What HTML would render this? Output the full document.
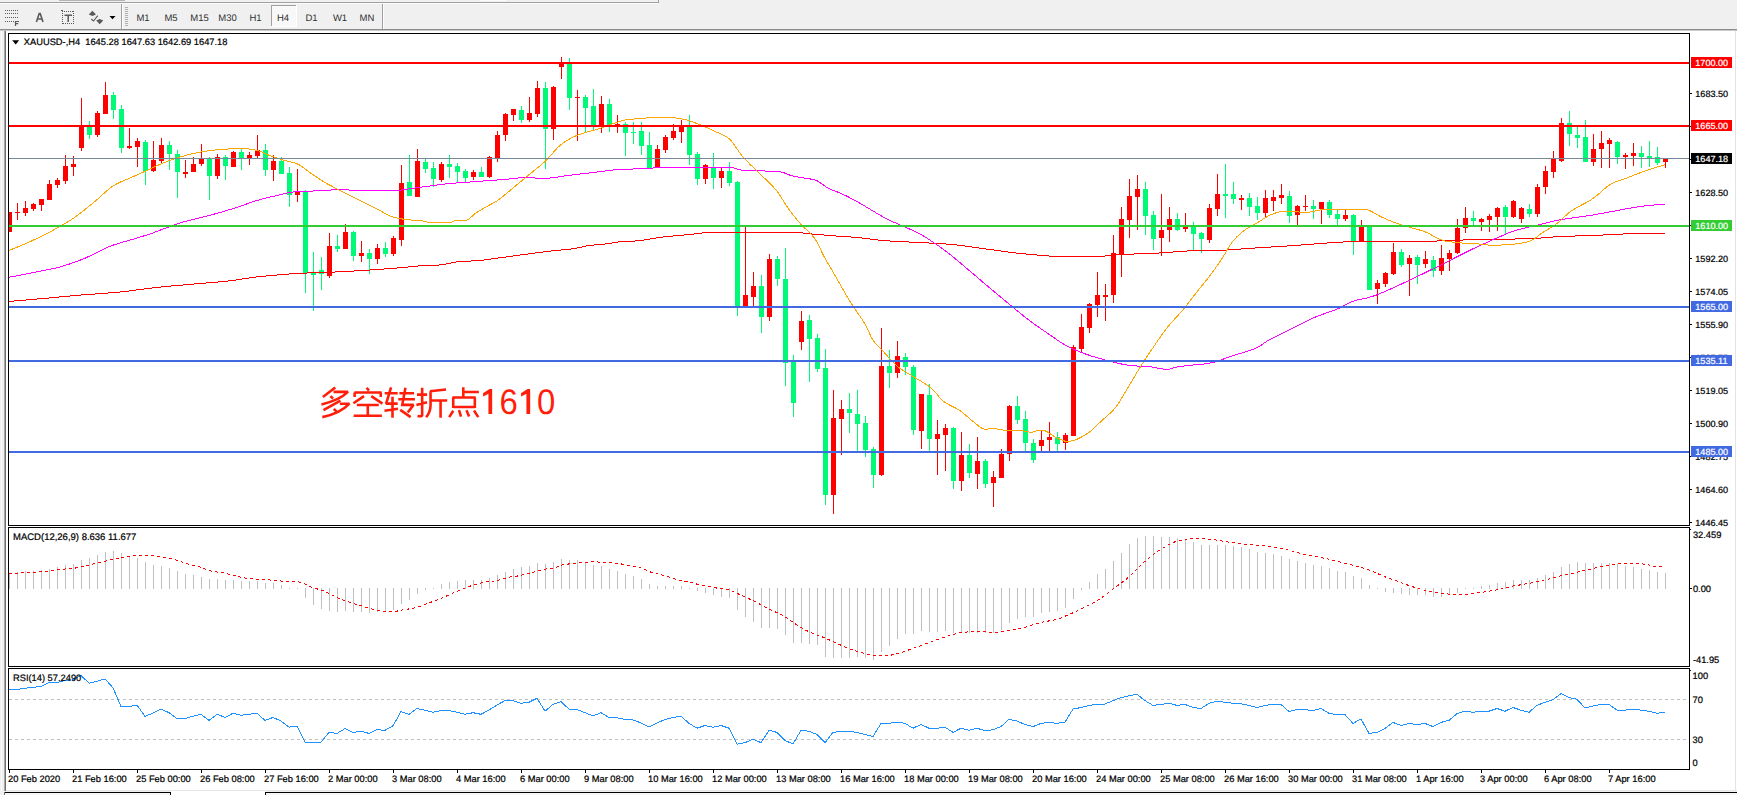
<!DOCTYPE html>
<html><head><meta charset="utf-8"><title>XAUUSD H4</title>
<style>
html,body{margin:0;padding:0;background:#fff;overflow:hidden}
body{width:1737px;height:795px;font-family:"Liberation Sans",sans-serif}
svg{display:block;font-family:"Liberation Sans",sans-serif}
</style></head><body>
<svg width="1737" height="795" viewBox="0 0 1737 795" shape-rendering="crispEdges" text-rendering="geometricPrecision">
<defs><clipPath id="cm"><rect x="9" y="34" width="1680" height="491"/></clipPath></defs>
<rect x="0" y="0" width="1737" height="795" fill="#fff"/>
<rect x="0" y="0" width="1737" height="3" fill="#f0f0f0"/>
<rect x="0" y="2" width="658" height="1" fill="#a0a0a0"/>
<rect x="658" y="0" width="1" height="3" fill="#a0a0a0"/>
<rect x="59" y="0" width="66" height="1" fill="#b4b4b4"/>
<rect x="480" y="0" width="26" height="1" fill="#fafafa"/>
<rect x="0" y="3" width="1737" height="26" fill="#f0f0f0"/>
<rect x="0" y="3" width="658" height="1" fill="#fbfbfb"/>
<rect x="0" y="29" width="1737" height="1" fill="#8c8c8c"/>
<rect x="0" y="30" width="1737" height="1" fill="#c8c8c8"/>
<rect x="0" y="31" width="4" height="760" fill="#f0f0f0"/>
<rect x="1" y="31" width="1" height="760" fill="#fafafa"/>
<rect x="4" y="31" width="1" height="760" fill="#a8a8a8"/>
<rect x="5" y="31" width="1" height="760" fill="#6e6e6e"/>
<rect x="1735" y="31" width="1" height="760" fill="#e3e3e3"/>
<rect x="6" y="790" width="1731" height="1" fill="#e6e6e6"/>
<rect x="0" y="791" width="1737" height="4" fill="#f0f0f0"/>
<rect x="4" y="792" width="167" height="1" fill="#000"/>
<rect x="170" y="792" width="1" height="3" fill="#000"/>
<rect x="4" y="792" width="1" height="3" fill="#6e6e6e"/>
<rect x="171" y="791" width="94" height="4" fill="#fff"/>
<rect x="265" y="792" width="1472" height="1" fill="#000"/>
<rect x="265" y="792" width="1" height="3" fill="#000"/>
<rect x="5" y="793" width="165" height="2" fill="#f6f6f6"/>
<rect x="266" y="793" width="1471" height="2" fill="#f6f6f6"/>
<rect x="121" y="4" width="1" height="25" fill="#a0a0a0"/>
<rect x="122" y="4" width="1" height="25" fill="#fdfdfd"/>
<rect x="382" y="4" width="1" height="25" fill="#a0a0a0"/>
<rect x="383" y="4" width="1" height="25" fill="#fdfdfd"/>
<rect x="125" y="7" width="3" height="1" fill="#b0b0b0"/>
<rect x="125" y="9" width="3" height="1" fill="#b0b0b0"/>
<rect x="125" y="11" width="3" height="1" fill="#b0b0b0"/>
<rect x="125" y="13" width="3" height="1" fill="#b0b0b0"/>
<rect x="125" y="15" width="3" height="1" fill="#b0b0b0"/>
<rect x="125" y="17" width="3" height="1" fill="#b0b0b0"/>
<rect x="125" y="19" width="3" height="1" fill="#b0b0b0"/>
<rect x="125" y="21" width="3" height="1" fill="#b0b0b0"/>
<rect x="125" y="23" width="3" height="1" fill="#b0b0b0"/>
<rect x="125" y="25" width="3" height="1" fill="#b0b0b0"/>
<rect x="271" y="5" width="26" height="22" fill="#f8f8f8"/>
<rect x="271" y="5" width="26" height="1" fill="#a0a0a0"/>
<rect x="271" y="5" width="1" height="22" fill="#a0a0a0"/>
<rect x="296" y="5" width="1" height="22" fill="#fff"/>
<rect x="271" y="26" width="26" height="1" fill="#fff"/>
<text x="143" y="21" font-size="9.5" fill="#303030" text-anchor="middle">M1</text>
<text x="171" y="21" font-size="9.5" fill="#303030" text-anchor="middle">M5</text>
<text x="199.5" y="21" font-size="9.5" fill="#303030" text-anchor="middle">M15</text>
<text x="227.5" y="21" font-size="9.5" fill="#303030" text-anchor="middle">M30</text>
<text x="255.5" y="21" font-size="9.5" fill="#303030" text-anchor="middle">H1</text>
<text x="283" y="21" font-size="9.5" fill="#303030" text-anchor="middle">H4</text>
<text x="311.5" y="21" font-size="9.5" fill="#303030" text-anchor="middle">D1</text>
<text x="340" y="21" font-size="9.5" fill="#303030" text-anchor="middle">W1</text>
<text x="367" y="21" font-size="9.5" fill="#303030" text-anchor="middle">MN</text>
<rect x="5" y="10" width="1" height="1" fill="#5a5a5a"/>
<rect x="7" y="10" width="1" height="1" fill="#5a5a5a"/>
<rect x="9" y="10" width="1" height="1" fill="#5a5a5a"/>
<rect x="11" y="10" width="1" height="1" fill="#5a5a5a"/>
<rect x="13" y="10" width="1" height="1" fill="#5a5a5a"/>
<rect x="15" y="10" width="1" height="1" fill="#5a5a5a"/>
<rect x="17" y="10" width="1" height="1" fill="#5a5a5a"/>
<rect x="5" y="13" width="1" height="1" fill="#5a5a5a"/>
<rect x="7" y="13" width="1" height="1" fill="#5a5a5a"/>
<rect x="9" y="13" width="1" height="1" fill="#5a5a5a"/>
<rect x="11" y="13" width="1" height="1" fill="#5a5a5a"/>
<rect x="13" y="13" width="1" height="1" fill="#5a5a5a"/>
<rect x="15" y="13" width="1" height="1" fill="#5a5a5a"/>
<rect x="17" y="13" width="1" height="1" fill="#5a5a5a"/>
<rect x="5" y="17" width="1" height="1" fill="#5a5a5a"/>
<rect x="7" y="17" width="1" height="1" fill="#5a5a5a"/>
<rect x="9" y="17" width="1" height="1" fill="#5a5a5a"/>
<rect x="11" y="17" width="1" height="1" fill="#5a5a5a"/>
<rect x="13" y="17" width="1" height="1" fill="#5a5a5a"/>
<rect x="15" y="17" width="1" height="1" fill="#5a5a5a"/>
<rect x="17" y="17" width="1" height="1" fill="#5a5a5a"/>
<rect x="5" y="21" width="1" height="1" fill="#5a5a5a"/>
<rect x="7" y="21" width="1" height="1" fill="#5a5a5a"/>
<rect x="9" y="21" width="1" height="1" fill="#5a5a5a"/>
<rect x="11" y="21" width="1" height="1" fill="#5a5a5a"/>
<rect x="13" y="21" width="1" height="1" fill="#5a5a5a"/>
<path d="M15.5 26V21.5H19M15.5 23.7H18.3" stroke="#5a5a5a" stroke-width="1.2" fill="none" shape-rendering="geometricPrecision"/>
<path d="M36.4 21.9L39.2 13.6H40.2L43 21.9M37.5 19H41.9" stroke="#5a5a5a" stroke-width="1.6" fill="none" stroke-linejoin="miter" shape-rendering="geometricPrecision"/>
<rect x="62" y="11" width="1" height="1" fill="#5a5a5a"/>
<rect x="63" y="23" width="1" height="1" fill="#5a5a5a"/>
<rect x="64" y="11" width="1" height="1" fill="#5a5a5a"/>
<rect x="65" y="23" width="1" height="1" fill="#5a5a5a"/>
<rect x="66" y="11" width="1" height="1" fill="#5a5a5a"/>
<rect x="67" y="23" width="1" height="1" fill="#5a5a5a"/>
<rect x="68" y="11" width="1" height="1" fill="#5a5a5a"/>
<rect x="69" y="23" width="1" height="1" fill="#5a5a5a"/>
<rect x="70" y="11" width="1" height="1" fill="#5a5a5a"/>
<rect x="71" y="23" width="1" height="1" fill="#5a5a5a"/>
<rect x="72" y="11" width="1" height="1" fill="#5a5a5a"/>
<rect x="73" y="23" width="1" height="1" fill="#5a5a5a"/>
<rect x="62" y="11" width="1" height="1" fill="#5a5a5a"/>
<rect x="73" y="11" width="1" height="1" fill="#5a5a5a"/>
<rect x="62" y="13" width="1" height="1" fill="#5a5a5a"/>
<rect x="73" y="13" width="1" height="1" fill="#5a5a5a"/>
<rect x="62" y="15" width="1" height="1" fill="#5a5a5a"/>
<rect x="73" y="15" width="1" height="1" fill="#5a5a5a"/>
<rect x="62" y="17" width="1" height="1" fill="#5a5a5a"/>
<rect x="73" y="17" width="1" height="1" fill="#5a5a5a"/>
<rect x="62" y="19" width="1" height="1" fill="#5a5a5a"/>
<rect x="73" y="19" width="1" height="1" fill="#5a5a5a"/>
<rect x="62" y="21" width="1" height="1" fill="#5a5a5a"/>
<rect x="73" y="21" width="1" height="1" fill="#5a5a5a"/>
<rect x="62" y="23" width="1" height="1" fill="#5a5a5a"/>
<rect x="73" y="23" width="1" height="1" fill="#5a5a5a"/>
<rect x="61" y="10" width="2" height="1" fill="#5a5a5a"/>
<path d="M64.5 15.2H72M68.2 15.2V22" stroke="#5a5a5a" stroke-width="1.5" fill="none" shape-rendering="geometricPrecision"/>
<g shape-rendering="geometricPrecision" fill="#5a5a5a"><path d="M92.4 10.8L96 14.4L92.4 16L88.8 14.4Z"/><path d="M99.7 24.2L103.2 20.6L99.7 19L96.2 20.6Z"/><path d="M91.3 19L93.5 21L97.8 15.6" stroke="#5a5a5a" stroke-width="1.1" fill="none"/></g>
<path d="M109.5 16H115.5L112.5 19.2Z" fill="#000" shape-rendering="geometricPrecision"/>
<rect x="8" y="33" width="1682" height="1" fill="#000"/>
<rect x="8" y="525" width="1682" height="1" fill="#000"/>
<rect x="8" y="33" width="1" height="493" fill="#000"/>
<rect x="1689" y="33" width="1" height="493" fill="#000"/>
<rect x="8" y="527" width="1682" height="1" fill="#000"/>
<rect x="8" y="666" width="1682" height="1" fill="#000"/>
<rect x="8" y="527" width="1" height="140" fill="#000"/>
<rect x="1689" y="527" width="1" height="140" fill="#000"/>
<rect x="8" y="668" width="1682" height="1" fill="#000"/>
<rect x="8" y="769" width="1682" height="1" fill="#000"/>
<rect x="8" y="668" width="1" height="102" fill="#000"/>
<rect x="1689" y="668" width="1" height="102" fill="#000"/>
<g clip-path="url(#cm)">
<rect x="9" y="212" width="1" height="20" fill="#ff0000"/>
<rect x="7" y="212" width="5" height="20" fill="#ff0000"/>
<rect x="17" y="203" width="1" height="17" fill="#ff0000"/>
<rect x="15" y="212" width="5" height="1" fill="#ff0000"/>
<rect x="25" y="201" width="1" height="15" fill="#ff0000"/>
<rect x="23" y="208" width="5" height="5" fill="#ff0000"/>
<rect x="33" y="203" width="1" height="8" fill="#ff0000"/>
<rect x="31" y="204" width="5" height="5" fill="#ff0000"/>
<rect x="41" y="199" width="1" height="12" fill="#ff0000"/>
<rect x="39" y="199" width="5" height="6" fill="#ff0000"/>
<rect x="49" y="180" width="1" height="20" fill="#ff0000"/>
<rect x="47" y="184" width="5" height="16" fill="#ff0000"/>
<rect x="57" y="178" width="1" height="10" fill="#ff0000"/>
<rect x="55" y="180" width="5" height="5" fill="#ff0000"/>
<rect x="65" y="155" width="1" height="29" fill="#ff0000"/>
<rect x="63" y="166" width="5" height="15" fill="#ff0000"/>
<rect x="73" y="156" width="1" height="20" fill="#ff0000"/>
<rect x="71" y="164" width="5" height="3" fill="#ff0000"/>
<rect x="81" y="98" width="1" height="53" fill="#ff0000"/>
<rect x="79" y="126" width="5" height="22" fill="#ff0000"/>
<rect x="89" y="121" width="1" height="18" fill="#00fa78"/>
<rect x="87" y="127" width="5" height="8" fill="#00fa78"/>
<rect x="97" y="111" width="1" height="26" fill="#ff0000"/>
<rect x="95" y="113" width="5" height="22" fill="#ff0000"/>
<rect x="105" y="82" width="1" height="32" fill="#ff0000"/>
<rect x="103" y="95" width="5" height="19" fill="#ff0000"/>
<rect x="113" y="92" width="1" height="27" fill="#00fa78"/>
<rect x="111" y="95" width="5" height="15" fill="#00fa78"/>
<rect x="121" y="105" width="1" height="48" fill="#00fa78"/>
<rect x="119" y="109" width="5" height="39" fill="#00fa78"/>
<rect x="129" y="128" width="1" height="21" fill="#ff0000"/>
<rect x="127" y="146" width="5" height="2" fill="#ff0000"/>
<rect x="137" y="138" width="1" height="29" fill="#ff0000"/>
<rect x="135" y="141" width="5" height="6" fill="#ff0000"/>
<rect x="145" y="140" width="1" height="45" fill="#00fa78"/>
<rect x="143" y="142" width="5" height="29" fill="#00fa78"/>
<rect x="153" y="141" width="1" height="31" fill="#ff0000"/>
<rect x="151" y="160" width="5" height="11" fill="#ff0000"/>
<rect x="161" y="138" width="1" height="26" fill="#ff0000"/>
<rect x="159" y="145" width="5" height="16" fill="#ff0000"/>
<rect x="169" y="141" width="1" height="29" fill="#00fa78"/>
<rect x="167" y="145" width="5" height="9" fill="#00fa78"/>
<rect x="177" y="150" width="1" height="48" fill="#00fa78"/>
<rect x="175" y="154" width="5" height="18" fill="#00fa78"/>
<rect x="185" y="160" width="1" height="18" fill="#ff0000"/>
<rect x="183" y="172" width="5" height="2" fill="#ff0000"/>
<rect x="193" y="157" width="1" height="15" fill="#ff0000"/>
<rect x="191" y="164" width="5" height="8" fill="#ff0000"/>
<rect x="201" y="144" width="1" height="22" fill="#ff0000"/>
<rect x="199" y="158" width="5" height="6" fill="#ff0000"/>
<rect x="209" y="157" width="1" height="43" fill="#00fa78"/>
<rect x="207" y="158" width="5" height="18" fill="#00fa78"/>
<rect x="217" y="154" width="1" height="25" fill="#ff0000"/>
<rect x="215" y="157" width="5" height="19" fill="#ff0000"/>
<rect x="225" y="155" width="1" height="25" fill="#00fa78"/>
<rect x="223" y="157" width="5" height="9" fill="#00fa78"/>
<rect x="233" y="151" width="1" height="16" fill="#ff0000"/>
<rect x="231" y="152" width="5" height="15" fill="#ff0000"/>
<rect x="241" y="149" width="1" height="21" fill="#00fa78"/>
<rect x="239" y="152" width="5" height="6" fill="#00fa78"/>
<rect x="249" y="152" width="1" height="13" fill="#ff0000"/>
<rect x="247" y="155" width="5" height="3" fill="#ff0000"/>
<rect x="257" y="135" width="1" height="23" fill="#ff0000"/>
<rect x="255" y="150" width="5" height="6" fill="#ff0000"/>
<rect x="265" y="144" width="1" height="32" fill="#00fa78"/>
<rect x="263" y="150" width="5" height="20" fill="#00fa78"/>
<rect x="273" y="155" width="1" height="26" fill="#ff0000"/>
<rect x="271" y="161" width="5" height="9" fill="#ff0000"/>
<rect x="281" y="157" width="1" height="17" fill="#00fa78"/>
<rect x="279" y="161" width="5" height="13" fill="#00fa78"/>
<rect x="289" y="167" width="1" height="40" fill="#00fa78"/>
<rect x="287" y="173" width="5" height="22" fill="#00fa78"/>
<rect x="297" y="169" width="1" height="33" fill="#ff0000"/>
<rect x="295" y="191" width="5" height="4" fill="#ff0000"/>
<rect x="305" y="190" width="1" height="103" fill="#00fa78"/>
<rect x="303" y="192" width="5" height="81" fill="#00fa78"/>
<rect x="313" y="252" width="1" height="59" fill="#00fa78"/>
<rect x="311" y="273" width="5" height="2" fill="#00fa78"/>
<rect x="321" y="257" width="1" height="33" fill="#00fa78"/>
<rect x="319" y="270" width="5" height="4" fill="#00fa78"/>
<rect x="329" y="233" width="1" height="45" fill="#ff0000"/>
<rect x="327" y="246" width="5" height="30" fill="#ff0000"/>
<rect x="337" y="235" width="1" height="17" fill="#00fa78"/>
<rect x="335" y="246" width="5" height="3" fill="#00fa78"/>
<rect x="345" y="224" width="1" height="25" fill="#ff0000"/>
<rect x="343" y="232" width="5" height="17" fill="#ff0000"/>
<rect x="353" y="231" width="1" height="30" fill="#00fa78"/>
<rect x="351" y="232" width="5" height="24" fill="#00fa78"/>
<rect x="361" y="241" width="1" height="21" fill="#ff0000"/>
<rect x="359" y="253" width="5" height="3" fill="#ff0000"/>
<rect x="369" y="249" width="1" height="25" fill="#00fa78"/>
<rect x="367" y="253" width="5" height="6" fill="#00fa78"/>
<rect x="377" y="244" width="1" height="20" fill="#ff0000"/>
<rect x="375" y="248" width="5" height="11" fill="#ff0000"/>
<rect x="385" y="242" width="1" height="15" fill="#00fa78"/>
<rect x="383" y="248" width="5" height="6" fill="#00fa78"/>
<rect x="393" y="236" width="1" height="20" fill="#ff0000"/>
<rect x="391" y="238" width="5" height="16" fill="#ff0000"/>
<rect x="401" y="165" width="1" height="81" fill="#ff0000"/>
<rect x="399" y="183" width="5" height="57" fill="#ff0000"/>
<rect x="409" y="155" width="1" height="41" fill="#00fa78"/>
<rect x="407" y="182" width="5" height="14" fill="#00fa78"/>
<rect x="417" y="149" width="1" height="48" fill="#ff0000"/>
<rect x="415" y="161" width="5" height="36" fill="#ff0000"/>
<rect x="425" y="158" width="1" height="15" fill="#00fa78"/>
<rect x="423" y="162" width="5" height="7" fill="#00fa78"/>
<rect x="433" y="162" width="1" height="25" fill="#00fa78"/>
<rect x="431" y="168" width="5" height="11" fill="#00fa78"/>
<rect x="441" y="162" width="1" height="20" fill="#ff0000"/>
<rect x="439" y="164" width="5" height="16" fill="#ff0000"/>
<rect x="449" y="155" width="1" height="23" fill="#00fa78"/>
<rect x="447" y="164" width="5" height="3" fill="#00fa78"/>
<rect x="457" y="163" width="1" height="20" fill="#00fa78"/>
<rect x="455" y="166" width="5" height="6" fill="#00fa78"/>
<rect x="465" y="169" width="1" height="13" fill="#00fa78"/>
<rect x="463" y="171" width="5" height="7" fill="#00fa78"/>
<rect x="473" y="170" width="1" height="10" fill="#ff0000"/>
<rect x="471" y="172" width="5" height="5" fill="#ff0000"/>
<rect x="481" y="167" width="1" height="10" fill="#00fa78"/>
<rect x="479" y="172" width="5" height="5" fill="#00fa78"/>
<rect x="489" y="156" width="1" height="22" fill="#ff0000"/>
<rect x="487" y="157" width="5" height="20" fill="#ff0000"/>
<rect x="497" y="131" width="1" height="31" fill="#ff0000"/>
<rect x="495" y="135" width="5" height="23" fill="#ff0000"/>
<rect x="505" y="113" width="1" height="28" fill="#ff0000"/>
<rect x="503" y="114" width="5" height="21" fill="#ff0000"/>
<rect x="513" y="109" width="1" height="12" fill="#ff0000"/>
<rect x="511" y="109" width="5" height="6" fill="#ff0000"/>
<rect x="521" y="106" width="1" height="17" fill="#00fa78"/>
<rect x="519" y="110" width="5" height="10" fill="#00fa78"/>
<rect x="529" y="97" width="1" height="25" fill="#ff0000"/>
<rect x="527" y="113" width="5" height="7" fill="#ff0000"/>
<rect x="537" y="81" width="1" height="36" fill="#ff0000"/>
<rect x="535" y="88" width="5" height="26" fill="#ff0000"/>
<rect x="545" y="82" width="1" height="87" fill="#00fa78"/>
<rect x="543" y="88" width="5" height="41" fill="#00fa78"/>
<rect x="553" y="86" width="1" height="54" fill="#ff0000"/>
<rect x="551" y="87" width="5" height="42" fill="#ff0000"/>
<rect x="561" y="57" width="1" height="22" fill="#ff0000"/>
<rect x="559" y="62" width="5" height="5" fill="#ff0000"/>
<rect x="569" y="58" width="1" height="52" fill="#00fa78"/>
<rect x="567" y="63" width="5" height="35" fill="#00fa78"/>
<rect x="577" y="90" width="1" height="51" fill="#ff0000"/>
<rect x="575" y="97" width="5" height="1" fill="#ff0000"/>
<rect x="585" y="95" width="1" height="38" fill="#00fa78"/>
<rect x="583" y="97" width="5" height="11" fill="#00fa78"/>
<rect x="593" y="89" width="1" height="42" fill="#00fa78"/>
<rect x="591" y="106" width="5" height="20" fill="#00fa78"/>
<rect x="601" y="96" width="1" height="37" fill="#ff0000"/>
<rect x="599" y="104" width="5" height="23" fill="#ff0000"/>
<rect x="609" y="99" width="1" height="33" fill="#00fa78"/>
<rect x="607" y="104" width="5" height="22" fill="#00fa78"/>
<rect x="617" y="115" width="1" height="18" fill="#ff0000"/>
<rect x="615" y="124" width="5" height="2" fill="#ff0000"/>
<rect x="625" y="122" width="1" height="34" fill="#00fa78"/>
<rect x="623" y="124" width="5" height="9" fill="#00fa78"/>
<rect x="633" y="122" width="1" height="22" fill="#00fa78"/>
<rect x="631" y="132" width="5" height="1" fill="#00fa78"/>
<rect x="641" y="122" width="1" height="33" fill="#00fa78"/>
<rect x="639" y="131" width="5" height="15" fill="#00fa78"/>
<rect x="649" y="132" width="1" height="36" fill="#00fa78"/>
<rect x="647" y="145" width="5" height="23" fill="#00fa78"/>
<rect x="657" y="145" width="1" height="23" fill="#ff0000"/>
<rect x="655" y="149" width="5" height="19" fill="#ff0000"/>
<rect x="665" y="135" width="1" height="18" fill="#ff0000"/>
<rect x="663" y="137" width="5" height="13" fill="#ff0000"/>
<rect x="673" y="124" width="1" height="16" fill="#ff0000"/>
<rect x="671" y="131" width="5" height="7" fill="#ff0000"/>
<rect x="681" y="120" width="1" height="23" fill="#ff0000"/>
<rect x="679" y="125" width="5" height="7" fill="#ff0000"/>
<rect x="689" y="115" width="1" height="50" fill="#00fa78"/>
<rect x="687" y="127" width="5" height="28" fill="#00fa78"/>
<rect x="697" y="152" width="1" height="33" fill="#00fa78"/>
<rect x="695" y="154" width="5" height="25" fill="#00fa78"/>
<rect x="705" y="164" width="1" height="20" fill="#ff0000"/>
<rect x="703" y="165" width="5" height="14" fill="#ff0000"/>
<rect x="713" y="153" width="1" height="36" fill="#00fa78"/>
<rect x="711" y="167" width="5" height="11" fill="#00fa78"/>
<rect x="721" y="167" width="1" height="21" fill="#ff0000"/>
<rect x="719" y="171" width="5" height="7" fill="#ff0000"/>
<rect x="729" y="162" width="1" height="24" fill="#00fa78"/>
<rect x="727" y="171" width="5" height="12" fill="#00fa78"/>
<rect x="737" y="181" width="1" height="135" fill="#00fa78"/>
<rect x="735" y="182" width="5" height="124" fill="#00fa78"/>
<rect x="745" y="227" width="1" height="80" fill="#ff0000"/>
<rect x="743" y="295" width="5" height="12" fill="#ff0000"/>
<rect x="753" y="272" width="1" height="35" fill="#ff0000"/>
<rect x="751" y="286" width="5" height="11" fill="#ff0000"/>
<rect x="761" y="275" width="1" height="58" fill="#00fa78"/>
<rect x="759" y="286" width="5" height="31" fill="#00fa78"/>
<rect x="769" y="254" width="1" height="67" fill="#ff0000"/>
<rect x="767" y="259" width="5" height="58" fill="#ff0000"/>
<rect x="777" y="256" width="1" height="30" fill="#00fa78"/>
<rect x="775" y="259" width="5" height="20" fill="#00fa78"/>
<rect x="785" y="248" width="1" height="138" fill="#00fa78"/>
<rect x="783" y="279" width="5" height="84" fill="#00fa78"/>
<rect x="793" y="355" width="1" height="62" fill="#00fa78"/>
<rect x="791" y="362" width="5" height="41" fill="#00fa78"/>
<rect x="801" y="311" width="1" height="39" fill="#ff0000"/>
<rect x="799" y="321" width="5" height="21" fill="#ff0000"/>
<rect x="809" y="315" width="1" height="67" fill="#00fa78"/>
<rect x="807" y="320" width="5" height="19" fill="#00fa78"/>
<rect x="817" y="334" width="1" height="38" fill="#00fa78"/>
<rect x="815" y="338" width="5" height="31" fill="#00fa78"/>
<rect x="825" y="349" width="1" height="156" fill="#00fa78"/>
<rect x="823" y="368" width="5" height="127" fill="#00fa78"/>
<rect x="833" y="390" width="1" height="124" fill="#ff0000"/>
<rect x="831" y="418" width="5" height="77" fill="#ff0000"/>
<rect x="841" y="400" width="1" height="55" fill="#ff0000"/>
<rect x="839" y="409" width="5" height="10" fill="#ff0000"/>
<rect x="849" y="393" width="1" height="40" fill="#00fa78"/>
<rect x="847" y="409" width="5" height="4" fill="#00fa78"/>
<rect x="857" y="390" width="1" height="61" fill="#00fa78"/>
<rect x="855" y="414" width="5" height="10" fill="#00fa78"/>
<rect x="865" y="416" width="1" height="41" fill="#00fa78"/>
<rect x="863" y="423" width="5" height="27" fill="#00fa78"/>
<rect x="873" y="447" width="1" height="41" fill="#00fa78"/>
<rect x="871" y="449" width="5" height="26" fill="#00fa78"/>
<rect x="881" y="328" width="1" height="148" fill="#ff0000"/>
<rect x="879" y="366" width="5" height="109" fill="#ff0000"/>
<rect x="889" y="350" width="1" height="38" fill="#00fa78"/>
<rect x="887" y="366" width="5" height="7" fill="#00fa78"/>
<rect x="897" y="341" width="1" height="37" fill="#ff0000"/>
<rect x="895" y="356" width="5" height="17" fill="#ff0000"/>
<rect x="905" y="353" width="1" height="22" fill="#00fa78"/>
<rect x="903" y="357" width="5" height="10" fill="#00fa78"/>
<rect x="913" y="365" width="1" height="70" fill="#00fa78"/>
<rect x="911" y="367" width="5" height="63" fill="#00fa78"/>
<rect x="921" y="394" width="1" height="55" fill="#ff0000"/>
<rect x="919" y="394" width="5" height="37" fill="#ff0000"/>
<rect x="929" y="384" width="1" height="67" fill="#00fa78"/>
<rect x="927" y="395" width="5" height="44" fill="#00fa78"/>
<rect x="937" y="420" width="1" height="55" fill="#ff0000"/>
<rect x="935" y="434" width="5" height="5" fill="#ff0000"/>
<rect x="945" y="424" width="1" height="47" fill="#ff0000"/>
<rect x="943" y="428" width="5" height="7" fill="#ff0000"/>
<rect x="953" y="427" width="1" height="62" fill="#00fa78"/>
<rect x="951" y="428" width="5" height="53" fill="#00fa78"/>
<rect x="961" y="432" width="1" height="59" fill="#ff0000"/>
<rect x="959" y="455" width="5" height="26" fill="#ff0000"/>
<rect x="969" y="444" width="1" height="34" fill="#00fa78"/>
<rect x="967" y="455" width="5" height="18" fill="#00fa78"/>
<rect x="977" y="437" width="1" height="52" fill="#ff0000"/>
<rect x="975" y="461" width="5" height="13" fill="#ff0000"/>
<rect x="985" y="459" width="1" height="29" fill="#00fa78"/>
<rect x="983" y="461" width="5" height="23" fill="#00fa78"/>
<rect x="993" y="471" width="1" height="36" fill="#ff0000"/>
<rect x="991" y="477" width="5" height="6" fill="#ff0000"/>
<rect x="1001" y="449" width="1" height="29" fill="#ff0000"/>
<rect x="999" y="454" width="5" height="24" fill="#ff0000"/>
<rect x="1009" y="405" width="1" height="56" fill="#ff0000"/>
<rect x="1007" y="406" width="5" height="48" fill="#ff0000"/>
<rect x="1017" y="396" width="1" height="28" fill="#00fa78"/>
<rect x="1015" y="406" width="5" height="14" fill="#00fa78"/>
<rect x="1025" y="411" width="1" height="40" fill="#00fa78"/>
<rect x="1023" y="419" width="5" height="24" fill="#00fa78"/>
<rect x="1033" y="439" width="1" height="24" fill="#00fa78"/>
<rect x="1031" y="443" width="5" height="17" fill="#00fa78"/>
<rect x="1041" y="430" width="1" height="21" fill="#ff0000"/>
<rect x="1039" y="440" width="5" height="6" fill="#ff0000"/>
<rect x="1049" y="422" width="1" height="29" fill="#ff0000"/>
<rect x="1047" y="437" width="5" height="3" fill="#ff0000"/>
<rect x="1057" y="432" width="1" height="19" fill="#00fa78"/>
<rect x="1055" y="437" width="5" height="7" fill="#00fa78"/>
<rect x="1065" y="433" width="1" height="17" fill="#ff0000"/>
<rect x="1063" y="435" width="5" height="8" fill="#ff0000"/>
<rect x="1073" y="345" width="1" height="91" fill="#ff0000"/>
<rect x="1071" y="347" width="5" height="89" fill="#ff0000"/>
<rect x="1081" y="314" width="1" height="38" fill="#ff0000"/>
<rect x="1079" y="327" width="5" height="22" fill="#ff0000"/>
<rect x="1089" y="303" width="1" height="30" fill="#ff0000"/>
<rect x="1087" y="304" width="5" height="24" fill="#ff0000"/>
<rect x="1097" y="272" width="1" height="45" fill="#ff0000"/>
<rect x="1095" y="295" width="5" height="10" fill="#ff0000"/>
<rect x="1105" y="284" width="1" height="37" fill="#ff0000"/>
<rect x="1103" y="295" width="5" height="2" fill="#ff0000"/>
<rect x="1113" y="235" width="1" height="68" fill="#ff0000"/>
<rect x="1111" y="253" width="5" height="42" fill="#ff0000"/>
<rect x="1121" y="207" width="1" height="70" fill="#ff0000"/>
<rect x="1119" y="219" width="5" height="35" fill="#ff0000"/>
<rect x="1129" y="179" width="1" height="59" fill="#ff0000"/>
<rect x="1127" y="196" width="5" height="24" fill="#ff0000"/>
<rect x="1137" y="175" width="1" height="55" fill="#ff0000"/>
<rect x="1135" y="189" width="5" height="8" fill="#ff0000"/>
<rect x="1145" y="182" width="1" height="53" fill="#00fa78"/>
<rect x="1143" y="189" width="5" height="27" fill="#00fa78"/>
<rect x="1153" y="211" width="1" height="39" fill="#00fa78"/>
<rect x="1151" y="215" width="5" height="24" fill="#00fa78"/>
<rect x="1161" y="194" width="1" height="62" fill="#ff0000"/>
<rect x="1159" y="230" width="5" height="8" fill="#ff0000"/>
<rect x="1169" y="207" width="1" height="35" fill="#ff0000"/>
<rect x="1167" y="219" width="5" height="11" fill="#ff0000"/>
<rect x="1177" y="213" width="1" height="18" fill="#00fa78"/>
<rect x="1175" y="219" width="5" height="11" fill="#00fa78"/>
<rect x="1185" y="213" width="1" height="19" fill="#ff0000"/>
<rect x="1183" y="227" width="5" height="2" fill="#ff0000"/>
<rect x="1193" y="222" width="1" height="29" fill="#00fa78"/>
<rect x="1191" y="226" width="5" height="8" fill="#00fa78"/>
<rect x="1201" y="232" width="1" height="21" fill="#00fa78"/>
<rect x="1199" y="233" width="5" height="6" fill="#00fa78"/>
<rect x="1209" y="204" width="1" height="39" fill="#ff0000"/>
<rect x="1207" y="208" width="5" height="32" fill="#ff0000"/>
<rect x="1217" y="174" width="1" height="42" fill="#ff0000"/>
<rect x="1215" y="194" width="5" height="15" fill="#ff0000"/>
<rect x="1225" y="164" width="1" height="54" fill="#00fa78"/>
<rect x="1223" y="194" width="5" height="2" fill="#00fa78"/>
<rect x="1233" y="182" width="1" height="22" fill="#00fa78"/>
<rect x="1231" y="194" width="5" height="5" fill="#00fa78"/>
<rect x="1241" y="195" width="1" height="15" fill="#ff0000"/>
<rect x="1239" y="198" width="5" height="2" fill="#ff0000"/>
<rect x="1249" y="193" width="1" height="23" fill="#00fa78"/>
<rect x="1247" y="198" width="5" height="9" fill="#00fa78"/>
<rect x="1257" y="197" width="1" height="23" fill="#00fa78"/>
<rect x="1255" y="206" width="5" height="7" fill="#00fa78"/>
<rect x="1265" y="190" width="1" height="27" fill="#ff0000"/>
<rect x="1263" y="198" width="5" height="15" fill="#ff0000"/>
<rect x="1273" y="190" width="1" height="21" fill="#ff0000"/>
<rect x="1271" y="197" width="5" height="4" fill="#ff0000"/>
<rect x="1281" y="184" width="1" height="20" fill="#ff0000"/>
<rect x="1279" y="195" width="5" height="3" fill="#ff0000"/>
<rect x="1289" y="191" width="1" height="32" fill="#00fa78"/>
<rect x="1287" y="196" width="5" height="20" fill="#00fa78"/>
<rect x="1297" y="205" width="1" height="20" fill="#ff0000"/>
<rect x="1295" y="206" width="5" height="9" fill="#ff0000"/>
<rect x="1305" y="195" width="1" height="16" fill="#ff0000"/>
<rect x="1303" y="206" width="5" height="1" fill="#ff0000"/>
<rect x="1313" y="200" width="1" height="19" fill="#00fa78"/>
<rect x="1311" y="206" width="5" height="3" fill="#00fa78"/>
<rect x="1321" y="202" width="1" height="22" fill="#ff0000"/>
<rect x="1319" y="202" width="5" height="7" fill="#ff0000"/>
<rect x="1329" y="200" width="1" height="18" fill="#00fa78"/>
<rect x="1327" y="202" width="5" height="13" fill="#00fa78"/>
<rect x="1337" y="210" width="1" height="15" fill="#00fa78"/>
<rect x="1335" y="214" width="5" height="5" fill="#00fa78"/>
<rect x="1345" y="210" width="1" height="11" fill="#ff0000"/>
<rect x="1343" y="215" width="5" height="4" fill="#ff0000"/>
<rect x="1353" y="214" width="1" height="41" fill="#00fa78"/>
<rect x="1351" y="215" width="5" height="27" fill="#00fa78"/>
<rect x="1361" y="220" width="1" height="22" fill="#ff0000"/>
<rect x="1359" y="227" width="5" height="15" fill="#ff0000"/>
<rect x="1369" y="225" width="1" height="65" fill="#00fa78"/>
<rect x="1367" y="227" width="5" height="63" fill="#00fa78"/>
<rect x="1377" y="280" width="1" height="24" fill="#ff0000"/>
<rect x="1375" y="283" width="5" height="6" fill="#ff0000"/>
<rect x="1385" y="272" width="1" height="15" fill="#ff0000"/>
<rect x="1383" y="273" width="5" height="11" fill="#ff0000"/>
<rect x="1393" y="243" width="1" height="32" fill="#ff0000"/>
<rect x="1391" y="252" width="5" height="22" fill="#ff0000"/>
<rect x="1401" y="249" width="1" height="18" fill="#00fa78"/>
<rect x="1399" y="252" width="5" height="13" fill="#00fa78"/>
<rect x="1409" y="255" width="1" height="41" fill="#ff0000"/>
<rect x="1407" y="258" width="5" height="6" fill="#ff0000"/>
<rect x="1417" y="255" width="1" height="29" fill="#00fa78"/>
<rect x="1415" y="257" width="5" height="8" fill="#00fa78"/>
<rect x="1425" y="251" width="1" height="17" fill="#ff0000"/>
<rect x="1423" y="259" width="5" height="5" fill="#ff0000"/>
<rect x="1433" y="256" width="1" height="21" fill="#00fa78"/>
<rect x="1431" y="260" width="5" height="11" fill="#00fa78"/>
<rect x="1441" y="245" width="1" height="30" fill="#ff0000"/>
<rect x="1439" y="258" width="5" height="13" fill="#ff0000"/>
<rect x="1449" y="250" width="1" height="21" fill="#ff0000"/>
<rect x="1447" y="253" width="5" height="6" fill="#ff0000"/>
<rect x="1457" y="219" width="1" height="35" fill="#ff0000"/>
<rect x="1455" y="228" width="5" height="25" fill="#ff0000"/>
<rect x="1465" y="207" width="1" height="26" fill="#ff0000"/>
<rect x="1463" y="218" width="5" height="10" fill="#ff0000"/>
<rect x="1473" y="211" width="1" height="14" fill="#00fa78"/>
<rect x="1471" y="218" width="5" height="3" fill="#00fa78"/>
<rect x="1481" y="218" width="1" height="13" fill="#ff0000"/>
<rect x="1479" y="219" width="5" height="3" fill="#ff0000"/>
<rect x="1489" y="214" width="1" height="18" fill="#ff0000"/>
<rect x="1487" y="216" width="5" height="4" fill="#ff0000"/>
<rect x="1497" y="207" width="1" height="24" fill="#ff0000"/>
<rect x="1495" y="208" width="5" height="9" fill="#ff0000"/>
<rect x="1505" y="205" width="1" height="29" fill="#00fa78"/>
<rect x="1503" y="207" width="5" height="10" fill="#00fa78"/>
<rect x="1513" y="200" width="1" height="18" fill="#ff0000"/>
<rect x="1511" y="201" width="5" height="16" fill="#ff0000"/>
<rect x="1521" y="207" width="1" height="16" fill="#ff0000"/>
<rect x="1519" y="208" width="5" height="11" fill="#ff0000"/>
<rect x="1529" y="204" width="1" height="13" fill="#00fa78"/>
<rect x="1527" y="209" width="5" height="5" fill="#00fa78"/>
<rect x="1537" y="184" width="1" height="33" fill="#ff0000"/>
<rect x="1535" y="187" width="5" height="27" fill="#ff0000"/>
<rect x="1545" y="166" width="1" height="28" fill="#ff0000"/>
<rect x="1543" y="171" width="5" height="16" fill="#ff0000"/>
<rect x="1553" y="151" width="1" height="27" fill="#ff0000"/>
<rect x="1551" y="159" width="5" height="13" fill="#ff0000"/>
<rect x="1561" y="118" width="1" height="44" fill="#ff0000"/>
<rect x="1559" y="123" width="5" height="38" fill="#ff0000"/>
<rect x="1569" y="111" width="1" height="35" fill="#00fa78"/>
<rect x="1567" y="123" width="5" height="11" fill="#00fa78"/>
<rect x="1577" y="127" width="1" height="21" fill="#00fa78"/>
<rect x="1575" y="135" width="5" height="3" fill="#00fa78"/>
<rect x="1585" y="120" width="1" height="42" fill="#00fa78"/>
<rect x="1583" y="137" width="5" height="25" fill="#00fa78"/>
<rect x="1593" y="134" width="1" height="32" fill="#ff0000"/>
<rect x="1591" y="149" width="5" height="13" fill="#ff0000"/>
<rect x="1601" y="131" width="1" height="37" fill="#ff0000"/>
<rect x="1599" y="143" width="5" height="6" fill="#ff0000"/>
<rect x="1609" y="138" width="1" height="30" fill="#ff0000"/>
<rect x="1607" y="140" width="5" height="4" fill="#ff0000"/>
<rect x="1617" y="141" width="1" height="23" fill="#00fa78"/>
<rect x="1615" y="142" width="5" height="15" fill="#00fa78"/>
<rect x="1625" y="153" width="1" height="16" fill="#ff0000"/>
<rect x="1623" y="155" width="5" height="2" fill="#ff0000"/>
<rect x="1633" y="143" width="1" height="23" fill="#ff0000"/>
<rect x="1631" y="153" width="5" height="3" fill="#ff0000"/>
<rect x="1641" y="146" width="1" height="22" fill="#00fa78"/>
<rect x="1639" y="153" width="5" height="4" fill="#00fa78"/>
<rect x="1649" y="141" width="1" height="26" fill="#00fa78"/>
<rect x="1647" y="156" width="5" height="2" fill="#00fa78"/>
<rect x="1657" y="147" width="1" height="18" fill="#00fa78"/>
<rect x="1655" y="157" width="5" height="6" fill="#00fa78"/>
<rect x="1665" y="158" width="1" height="10" fill="#ff0000"/>
<rect x="1663" y="158" width="5" height="4" fill="#ff0000"/>
</g>
<g clip-path="url(#cm)">
<polyline points="9,301.4 11,301.3 13,301.1 15,300.9 17,300.7 19,300.6 21,300.4 23,300.2 25,300.1 27,299.9 29,299.7 31,299.6 33,299.4 35,299.2 37,299.0 39,298.9 41,298.7 43,298.5 45,298.3 47,298.1 49,298.0 51,297.8 53,297.6 55,297.4 57,297.2 59,297.0 61,296.8 63,296.6 65,296.4 67,296.3 69,296.1 71,295.9 73,295.7 75,295.5 77,295.3 79,295.2 81,295.0 83,294.8 85,294.7 87,294.5 89,294.4 91,294.2 93,294.1 95,294.0 97,293.8 99,293.7 101,293.5 103,293.4 105,293.2 107,293.1 109,292.9 111,292.8 113,292.6 115,292.5 117,292.3 119,292.1 121,291.9 123,291.7 125,291.5 127,291.2 129,291.0 131,290.7 133,290.5 135,290.2 137,289.9 139,289.7 141,289.4 143,289.1 145,288.9 147,288.6 149,288.3 151,288.1 153,287.8 155,287.6 157,287.4 159,287.2 161,287.0 163,286.8 165,286.6 167,286.4 169,286.2 171,286.0 173,285.8 175,285.7 177,285.5 179,285.3 181,285.1 183,285.0 185,284.8 187,284.6 189,284.4 191,284.3 193,284.1 195,283.9 197,283.7 199,283.6 201,283.4 203,283.2 205,283.1 207,282.9 209,282.7 211,282.6 213,282.4 215,282.2 217,282.1 219,281.9 221,281.7 223,281.5 225,281.3 227,281.1 229,280.9 231,280.6 233,280.4 235,280.1 237,279.8 239,279.5 241,279.2 243,278.9 245,278.5 247,278.2 249,278.0 251,277.7 253,277.4 255,277.2 257,276.9 259,276.7 261,276.5 263,276.3 265,276.1 267,275.9 269,275.7 271,275.5 273,275.3 275,275.1 277,275.0 279,274.8 281,274.6 283,274.4 285,274.3 287,274.1 289,274.0 291,273.8 293,273.7 295,273.6 297,273.5 299,273.4 301,273.2 303,273.2 305,273.1 307,273.0 309,272.9 311,272.8 313,272.8 315,272.7 317,272.7 319,272.6 321,272.5 323,272.5 325,272.4 327,272.4 329,272.3 331,272.2 333,272.1 335,272.0 337,271.9 339,271.8 341,271.7 343,271.6 345,271.5 347,271.4 349,271.3 351,271.2 353,271.1 355,270.9 357,270.8 359,270.7 361,270.6 363,270.5 365,270.3 367,270.2 369,270.1 371,269.9 373,269.8 375,269.7 377,269.5 379,269.4 381,269.2 383,269.1 385,268.9 387,268.8 389,268.6 391,268.5 393,268.3 395,268.2 397,268.0 399,267.8 401,267.7 403,267.5 405,267.3 407,267.1 409,266.9 411,266.7 413,266.5 415,266.3 417,266.1 419,265.9 421,265.7 423,265.6 425,265.5 427,265.4 429,265.4 431,265.3 433,265.3 435,265.3 437,265.2 439,265.0 441,264.8 443,264.5 445,264.2 447,263.8 449,263.4 451,263.0 453,262.6 455,262.2 457,261.9 459,261.7 461,261.5 463,261.3 465,261.2 467,261.1 469,261.1 471,261.0 473,260.9 475,260.8 477,260.7 479,260.5 481,260.4 483,260.1 485,259.9 487,259.6 489,259.3 491,259.0 493,258.7 495,258.5 497,258.2 499,257.9 501,257.6 503,257.3 505,257.1 507,256.8 509,256.5 511,256.3 513,256.0 515,255.7 517,255.5 519,255.2 521,254.9 523,254.7 525,254.4 527,254.1 529,253.9 531,253.6 533,253.3 535,253.0 537,252.8 539,252.5 541,252.2 543,252.0 545,251.7 547,251.5 549,251.2 551,251.0 553,250.8 555,250.6 557,250.4 559,250.2 561,250.0 563,249.8 565,249.6 567,249.4 569,249.2 571,249.0 573,248.7 575,248.4 577,248.0 579,247.6 581,247.2 583,246.7 585,246.3 587,245.9 589,245.6 591,245.3 593,245.1 595,244.9 597,244.7 599,244.6 601,244.4 603,244.2 605,244.0 607,243.7 609,243.4 611,243.1 613,242.8 615,242.5 617,242.2 619,241.9 621,241.7 623,241.6 625,241.5 627,241.4 629,241.3 631,241.2 633,241.1 635,241.0 637,240.9 639,240.7 641,240.5 643,240.2 645,239.9 647,239.6 649,239.2 651,238.8 653,238.5 655,238.1 657,237.8 659,237.5 661,237.3 663,237.0 665,236.8 667,236.6 669,236.4 671,236.2 673,236.0 675,235.8 677,235.6 679,235.4 681,235.2 683,235.1 685,234.9 687,234.7 689,234.5 691,234.3 693,234.1 695,233.8 697,233.6 699,233.4 701,233.1 703,232.9 705,232.7 707,232.5 709,232.4 711,232.2 713,232.1 715,232.0 717,232.0 719,232.0 721,232.0 723,232.0 725,232.0 727,232.0 729,232.0 731,232.0 733,232.0 735,232.0 737,232.0 739,232.0 741,232.0 743,232.0 745,232.0 747,232.0 749,232.0 751,232.0 753,232.0 755,232.0 757,232.0 759,232.0 761,232.0 763,232.0 765,232.0 767,232.0 769,232.0 771,232.0 773,232.0 775,232.0 777,232.0 779,232.0 781,232.0 783,232.0 785,232.0 787,232.0 789,232.0 791,232.0 793,232.1 795,232.2 797,232.4 799,232.6 801,232.8 803,233.0 805,233.2 807,233.4 809,233.7 811,233.9 813,234.1 815,234.2 817,234.4 819,234.6 821,234.8 823,234.9 825,235.1 827,235.3 829,235.5 831,235.6 833,235.8 835,235.9 837,236.1 839,236.2 841,236.4 843,236.5 845,236.6 847,236.7 849,236.9 851,237.0 853,237.1 855,237.3 857,237.5 859,237.7 861,237.9 863,238.1 865,238.3 867,238.6 869,238.9 871,239.1 873,239.4 875,239.6 877,239.8 879,240.1 881,240.3 883,240.5 885,240.7 887,240.8 889,240.9 891,241.1 893,241.2 895,241.3 897,241.4 899,241.5 901,241.6 903,241.7 905,241.8 907,241.9 909,242.0 911,242.0 913,242.1 915,242.2 917,242.3 919,242.5 921,242.6 923,242.7 925,242.8 927,242.9 929,243.0 931,243.1 933,243.2 935,243.3 937,243.4 939,243.5 941,243.7 943,243.8 945,243.9 947,244.1 949,244.2 951,244.4 953,244.6 955,244.8 957,245.0 959,245.2 961,245.5 963,245.7 965,246.0 967,246.2 969,246.5 971,246.8 973,247.1 975,247.4 977,247.7 979,248.0 981,248.2 983,248.5 985,248.8 987,249.1 989,249.3 991,249.6 993,249.9 995,250.2 997,250.4 999,250.7 1001,251.0 1003,251.3 1005,251.6 1007,251.9 1009,252.1 1011,252.4 1013,252.7 1015,252.9 1017,253.1 1019,253.3 1021,253.5 1023,253.7 1025,253.9 1027,254.1 1029,254.3 1031,254.5 1033,254.7 1035,254.9 1037,255.0 1039,255.2 1041,255.4 1043,255.6 1045,255.7 1047,255.8 1049,256.0 1051,256.1 1053,256.2 1055,256.3 1057,256.3 1059,256.4 1061,256.4 1063,256.4 1065,256.4 1067,256.4 1069,256.4 1071,256.4 1073,256.4 1075,256.4 1077,256.4 1079,256.4 1081,256.4 1083,256.4 1085,256.4 1087,256.4 1089,256.4 1091,256.4 1093,256.4 1095,256.4 1097,256.4 1099,256.4 1101,256.4 1103,256.2 1105,256.0 1107,255.7 1109,255.4 1111,255.2 1113,254.9 1115,254.8 1117,254.7 1119,254.6 1121,254.6 1123,254.5 1125,254.5 1127,254.4 1129,254.3 1131,254.2 1133,254.1 1135,253.9 1137,253.8 1139,253.6 1141,253.5 1143,253.4 1145,253.3 1147,253.2 1149,253.2 1151,253.2 1153,253.1 1155,253.1 1157,253.0 1159,253.0 1161,252.9 1163,252.8 1165,252.7 1167,252.5 1169,252.4 1171,252.2 1173,252.0 1175,251.9 1177,251.7 1179,251.5 1181,251.4 1183,251.2 1185,251.1 1187,251.0 1189,250.9 1191,250.9 1193,250.8 1195,250.8 1197,250.7 1199,250.7 1201,250.7 1203,250.6 1205,250.6 1207,250.6 1209,250.5 1211,250.5 1213,250.5 1215,250.4 1217,250.4 1219,250.3 1221,250.3 1223,250.2 1225,250.1 1227,250.0 1229,249.9 1231,249.8 1233,249.6 1235,249.5 1237,249.3 1239,249.2 1241,249.0 1243,248.9 1245,248.7 1247,248.5 1249,248.4 1251,248.3 1253,248.1 1255,248.0 1257,247.9 1259,247.7 1261,247.6 1263,247.5 1265,247.4 1267,247.2 1269,247.1 1271,247.0 1273,246.9 1275,246.7 1277,246.6 1279,246.5 1281,246.4 1283,246.2 1285,246.1 1287,246.0 1289,245.8 1291,245.7 1293,245.6 1295,245.4 1297,245.3 1299,245.2 1301,245.0 1303,244.9 1305,244.7 1307,244.6 1309,244.4 1311,244.2 1313,244.1 1315,243.9 1317,243.8 1319,243.6 1321,243.4 1323,243.3 1325,243.1 1327,243.0 1329,242.9 1331,242.7 1333,242.6 1335,242.5 1337,242.4 1339,242.2 1341,242.1 1343,242.0 1345,241.8 1347,241.7 1349,241.6 1351,241.5 1353,241.5 1355,241.4 1357,241.4 1359,241.4 1361,241.4 1363,241.4 1365,241.4 1367,241.4 1369,241.4 1371,241.4 1373,241.4 1375,241.4 1377,241.4 1379,241.4 1381,241.4 1383,241.4 1385,241.4 1387,241.4 1389,241.4 1391,241.4 1393,241.4 1395,241.4 1397,241.4 1399,241.4 1401,241.4 1403,241.4 1405,241.4 1407,241.4 1409,241.4 1411,241.3 1413,241.3 1415,241.3 1417,241.3 1419,241.3 1421,241.2 1423,241.2 1425,241.2 1427,241.1 1429,241.1 1431,241.1 1433,241.0 1435,241.0 1437,241.0 1439,240.9 1441,240.9 1443,240.9 1445,240.8 1447,240.7 1449,240.7 1451,240.6 1453,240.5 1455,240.4 1457,240.3 1459,240.2 1461,240.1 1463,240.0 1465,239.9 1467,239.9 1469,239.8 1471,239.7 1473,239.6 1475,239.6 1477,239.5 1479,239.5 1481,239.5 1483,239.4 1485,239.4 1487,239.4 1489,239.4 1491,239.4 1493,239.3 1495,239.3 1497,239.3 1499,239.2 1501,239.2 1503,239.2 1505,239.1 1507,239.1 1509,239.1 1511,239.0 1513,239.0 1515,239.0 1517,238.9 1519,238.9 1521,238.8 1523,238.8 1525,238.7 1527,238.7 1529,238.6 1531,238.6 1533,238.5 1535,238.4 1537,238.3 1539,238.1 1541,238.0 1543,237.8 1545,237.7 1547,237.5 1549,237.3 1551,237.2 1553,237.0 1555,236.9 1557,236.7 1559,236.6 1561,236.5 1563,236.4 1565,236.3 1567,236.2 1569,236.2 1571,236.1 1573,236.0 1575,236.0 1577,235.9 1579,235.8 1581,235.8 1583,235.7 1585,235.7 1587,235.6 1589,235.6 1591,235.5 1593,235.4 1595,235.3 1597,235.3 1599,235.2 1601,235.1 1603,235.0 1605,234.9 1607,234.7 1609,234.6 1611,234.5 1613,234.4 1615,234.3 1617,234.2 1619,234.1 1621,234.0 1623,234.0 1625,233.9 1627,233.9 1629,233.8 1631,233.8 1633,233.8 1635,233.7 1637,233.7 1639,233.7 1641,233.7 1643,233.6 1645,233.6 1647,233.6 1649,233.6 1651,233.6 1653,233.5 1655,233.5 1657,233.5 1659,233.5 1661,233.5 1663,233.5 1665,233.5" fill="none" stroke="#ff0000" stroke-width="1"/>
<polyline points="9,277.3 11,276.9 13,276.6 15,276.2 17,275.8 19,275.4 21,275.0 23,274.6 25,274.2 27,273.8 29,273.4 31,273.0 33,272.6 35,272.2 37,271.8 39,271.4 41,271.1 43,270.7 45,270.3 47,269.9 49,269.5 51,269.1 53,268.6 55,268.2 57,267.7 59,267.2 61,266.6 63,266.1 65,265.5 67,264.8 69,264.2 71,263.5 73,262.8 75,262.1 77,261.3 79,260.6 81,259.8 83,259.0 85,258.2 87,257.3 89,256.3 91,255.4 93,254.4 95,253.4 97,252.4 99,251.4 101,250.4 103,249.4 105,248.5 107,247.6 109,246.7 111,245.9 113,245.2 115,244.5 117,243.9 119,243.3 121,242.7 123,242.1 125,241.5 127,241.0 129,240.4 131,239.8 133,239.2 135,238.6 137,238.0 139,237.4 141,236.8 143,236.2 145,235.5 147,234.9 149,234.2 151,233.6 153,232.9 155,232.1 157,231.4 159,230.6 161,229.8 163,229.0 165,228.3 167,227.6 169,226.8 171,226.1 173,225.4 175,224.7 177,224.0 179,223.4 181,222.7 183,222.1 185,221.5 187,220.9 189,220.4 191,219.9 193,219.4 195,218.9 197,218.4 199,218.0 201,217.5 203,217.0 205,216.6 207,216.1 209,215.5 211,215.0 213,214.4 215,213.9 217,213.3 219,212.7 221,212.2 223,211.6 225,211.0 227,210.4 229,209.8 231,209.3 233,208.7 235,208.1 237,207.4 239,206.7 241,206.0 243,205.3 245,204.6 247,203.8 249,203.1 251,202.4 253,201.7 255,201.1 257,200.5 259,199.9 261,199.3 263,198.8 265,198.3 267,197.8 269,197.3 271,196.9 273,196.4 275,195.9 277,195.5 279,195.0 281,194.5 283,194.0 285,193.5 287,193.0 289,192.6 291,192.2 293,192.0 295,191.8 297,191.7 299,191.6 301,191.5 303,191.4 305,191.3 307,191.3 309,191.2 311,191.1 313,191.0 315,190.8 317,190.7 319,190.6 321,190.5 323,190.4 325,190.3 327,190.2 329,190.1 331,190.0 333,189.9 335,189.9 337,189.8 339,189.8 341,189.8 343,189.8 345,189.9 347,189.9 349,190.0 351,190.0 353,190.1 355,190.2 357,190.2 359,190.3 361,190.3 363,190.4 365,190.4 367,190.4 369,190.4 371,190.4 373,190.4 375,190.4 377,190.4 379,190.4 381,190.4 383,190.4 385,190.4 387,190.4 389,190.4 391,190.4 393,190.4 395,190.4 397,190.4 399,190.3 401,190.1 403,189.8 405,189.5 407,189.2 409,188.9 411,188.6 413,188.3 415,188.0 417,187.7 419,187.5 421,187.2 423,186.9 425,186.7 427,186.4 429,186.1 431,185.9 433,185.6 435,185.3 437,185.0 439,184.7 441,184.5 443,184.2 445,184.0 447,183.8 449,183.6 451,183.4 453,183.2 455,183.1 457,182.9 459,182.8 461,182.6 463,182.5 465,182.4 467,182.2 469,182.1 471,181.9 473,181.8 475,181.6 477,181.5 479,181.3 481,181.2 483,181.0 485,180.9 487,180.7 489,180.6 491,180.4 493,180.3 495,180.1 497,180.0 499,179.8 501,179.7 503,179.5 505,179.3 507,179.2 509,179.0 511,178.8 513,178.6 515,178.3 517,178.1 519,177.9 521,177.7 523,177.6 525,177.6 527,177.6 529,177.7 531,177.8 533,177.9 535,178.0 537,178.1 539,178.2 541,178.3 543,178.3 545,178.3 547,178.2 549,178.1 551,177.9 553,177.6 555,177.4 557,177.1 559,176.8 561,176.5 563,176.2 565,175.9 567,175.6 569,175.4 571,175.1 573,174.9 575,174.6 577,174.4 579,174.2 581,173.9 583,173.7 585,173.4 587,173.2 589,173.0 591,172.7 593,172.5 595,172.3 597,172.0 599,171.8 601,171.6 603,171.3 605,171.0 607,170.8 609,170.5 611,170.3 613,170.0 615,169.8 617,169.6 619,169.5 621,169.4 623,169.3 625,169.2 627,169.1 629,169.1 631,169.0 633,169.0 635,168.9 637,168.9 639,168.8 641,168.8 643,168.7 645,168.6 647,168.4 649,168.3 651,168.1 653,168.0 655,167.9 657,167.7 659,167.6 661,167.5 663,167.4 665,167.3 667,167.3 669,167.3 671,167.3 673,167.3 675,167.3 677,167.3 679,167.3 681,167.3 683,167.3 685,167.3 687,167.3 689,167.3 691,167.3 693,167.3 695,167.3 697,167.3 699,167.3 701,167.3 703,167.3 705,167.3 707,167.3 709,167.3 711,167.3 713,167.3 715,167.3 717,167.3 719,167.3 721,167.3 723,167.3 725,167.3 727,167.3 729,167.3 731,167.3 733,167.6 735,168.2 737,168.9 739,169.6 741,170.1 743,170.4 745,170.5 747,170.6 749,170.7 751,170.7 753,170.8 755,170.8 757,170.8 759,170.9 761,170.9 763,170.9 765,171.0 767,171.0 769,171.0 771,171.1 773,171.2 775,171.2 777,171.3 779,171.5 781,171.9 783,172.4 785,173.2 787,174.0 789,174.8 791,175.5 793,176.1 795,176.5 797,176.9 799,177.2 801,177.5 803,177.8 805,178.1 807,178.4 809,178.7 811,179.1 813,179.6 815,180.1 817,180.8 819,181.9 821,183.3 823,184.7 825,186.2 827,187.5 829,188.5 831,189.4 833,190.3 835,191.1 837,191.8 839,192.6 841,193.5 843,194.4 845,195.3 847,196.3 849,197.3 851,198.4 853,199.4 855,200.5 857,201.6 859,202.7 861,203.9 863,205.0 865,206.2 867,207.4 869,208.6 871,209.8 873,211.0 875,212.2 877,213.4 879,214.6 881,215.7 883,216.9 885,217.9 887,219.0 889,220.0 891,221.0 893,221.9 895,222.7 897,223.6 899,224.4 901,225.3 903,226.1 905,227.0 907,227.9 909,228.8 911,229.7 913,230.6 915,231.5 917,232.5 919,233.5 921,234.6 923,235.7 925,236.9 927,238.2 929,239.5 931,240.8 933,242.1 935,243.5 937,244.8 939,246.2 941,247.6 943,249.0 945,250.5 947,252.0 949,253.6 951,255.2 953,256.8 955,258.5 957,260.2 959,261.8 961,263.5 963,265.2 965,266.9 967,268.6 969,270.3 971,272.0 973,273.7 975,275.4 977,277.1 979,278.8 981,280.6 983,282.3 985,284.0 987,285.6 989,287.3 991,289.0 993,290.7 995,292.4 997,294.0 999,295.7 1001,297.4 1003,299.0 1005,300.7 1007,302.3 1009,304.0 1011,305.6 1013,307.3 1015,308.9 1017,310.6 1019,312.2 1021,313.8 1023,315.5 1025,317.1 1027,318.6 1029,320.2 1031,321.6 1033,323.1 1035,324.6 1037,326.0 1039,327.4 1041,328.8 1043,330.2 1045,331.5 1047,332.9 1049,334.3 1051,335.6 1053,337.0 1055,338.4 1057,339.8 1059,341.2 1061,342.5 1063,343.7 1065,344.9 1067,346.0 1069,347.0 1071,348.0 1073,348.9 1075,349.8 1077,350.7 1079,351.5 1081,352.3 1083,353.1 1085,353.8 1087,354.5 1089,355.2 1091,355.9 1093,356.5 1095,357.1 1097,357.7 1099,358.3 1101,358.8 1103,359.4 1105,359.9 1107,360.4 1109,361.0 1111,361.5 1113,362.0 1115,362.5 1117,363.0 1119,363.4 1121,363.9 1123,364.3 1125,364.7 1127,365.1 1129,365.4 1131,365.7 1133,365.8 1135,365.9 1137,366.0 1139,366.0 1141,366.1 1143,366.1 1145,366.2 1147,366.3 1149,366.6 1151,366.9 1153,367.2 1155,367.6 1157,368.0 1159,368.4 1161,368.7 1163,369.0 1165,369.2 1167,369.3 1169,369.2 1171,368.7 1173,368.0 1175,367.4 1177,367.0 1179,366.7 1181,366.4 1183,366.1 1185,365.9 1187,365.6 1189,365.4 1191,365.2 1193,365.0 1195,364.9 1197,364.7 1199,364.5 1201,364.4 1203,364.2 1205,363.9 1207,363.6 1209,363.3 1211,362.9 1213,362.5 1215,362.0 1217,361.4 1219,360.7 1221,359.9 1223,359.2 1225,358.5 1227,357.7 1229,357.1 1231,356.4 1233,355.7 1235,355.0 1237,354.4 1239,353.8 1241,353.2 1243,352.7 1245,352.1 1247,351.5 1249,350.8 1251,350.1 1253,349.3 1255,348.5 1257,347.6 1259,346.5 1261,345.3 1263,343.9 1265,342.5 1267,341.2 1269,340.0 1271,339.0 1273,337.9 1275,337.0 1277,336.0 1279,335.0 1281,334.0 1283,333.0 1285,332.0 1287,331.0 1289,330.0 1291,329.0 1293,328.0 1295,327.0 1297,326.0 1299,325.0 1301,324.0 1303,323.0 1305,322.0 1307,321.0 1309,320.0 1311,319.0 1313,318.1 1315,317.2 1317,316.4 1319,315.6 1321,314.9 1323,314.2 1325,313.5 1327,312.8 1329,312.1 1331,311.4 1333,310.7 1335,309.9 1337,309.1 1339,308.2 1341,307.3 1343,306.2 1345,305.1 1347,304.1 1349,303.0 1351,302.1 1353,301.3 1355,300.7 1357,300.1 1359,299.6 1361,299.2 1363,298.8 1365,298.4 1367,297.9 1369,297.4 1371,296.8 1373,296.2 1375,295.5 1377,294.8 1379,294.0 1381,293.1 1383,292.3 1385,291.4 1387,290.5 1389,289.7 1391,288.8 1393,287.9 1395,287.0 1397,286.1 1399,285.2 1401,284.2 1403,283.3 1405,282.3 1407,281.4 1409,280.4 1411,279.5 1413,278.5 1415,277.6 1417,276.6 1419,275.7 1421,274.7 1423,273.7 1425,272.8 1427,271.8 1429,270.8 1431,269.8 1433,268.9 1435,267.9 1437,266.9 1439,265.9 1441,264.9 1443,263.9 1445,262.9 1447,261.9 1449,260.9 1451,259.9 1453,258.9 1455,257.8 1457,256.8 1459,255.8 1461,254.8 1463,253.8 1465,252.8 1467,251.8 1469,250.8 1471,249.8 1473,248.8 1475,247.9 1477,246.9 1479,246.0 1481,245.1 1483,244.2 1485,243.3 1487,242.4 1489,241.5 1491,240.6 1493,239.7 1495,238.8 1497,238.0 1499,237.1 1501,236.2 1503,235.3 1505,234.4 1507,233.5 1509,232.7 1511,232.0 1513,231.3 1515,230.6 1517,230.0 1519,229.5 1521,229.0 1523,228.4 1525,228.0 1527,227.5 1529,227.0 1531,226.5 1533,226.1 1535,225.6 1537,225.2 1539,224.7 1541,224.2 1543,223.7 1545,223.2 1547,222.7 1549,222.3 1551,221.8 1553,221.3 1555,220.9 1557,220.5 1559,220.0 1561,219.7 1563,219.3 1565,219.0 1567,218.7 1569,218.4 1571,218.1 1573,217.8 1575,217.6 1577,217.3 1579,217.0 1581,216.8 1583,216.5 1585,216.2 1587,215.9 1589,215.6 1591,215.3 1593,215.0 1595,214.6 1597,214.3 1599,213.9 1601,213.5 1603,213.2 1605,212.8 1607,212.4 1609,212.1 1611,211.7 1613,211.3 1615,211.0 1617,210.6 1619,210.3 1621,209.9 1623,209.5 1625,209.1 1627,208.7 1629,208.3 1631,208.0 1633,207.6 1635,207.3 1637,207.0 1639,206.7 1641,206.4 1643,206.2 1645,205.9 1647,205.7 1649,205.5 1651,205.3 1653,205.1 1655,204.9 1657,204.7 1659,204.6 1661,204.4 1663,204.3 1665,204.2" fill="none" stroke="#ff00ff" stroke-width="1"/>
<polyline points="9,250.4 11,249.6 13,248.8 15,248.0 17,247.2 19,246.4 21,245.6 23,244.7 25,243.9 27,243.0 29,242.1 31,241.2 33,240.3 35,239.3 37,238.4 39,237.4 41,236.5 43,235.5 45,234.5 47,233.5 49,232.4 51,231.4 53,230.3 55,229.2 57,228.1 59,227.0 61,225.9 63,224.8 65,223.6 67,222.4 69,221.1 71,219.9 73,218.5 75,217.2 77,215.7 79,214.2 81,212.7 83,211.1 85,209.5 87,207.9 89,206.2 91,204.6 93,203.0 95,201.3 97,199.6 99,197.9 101,196.0 103,194.2 105,192.4 107,190.6 109,189.0 111,187.4 113,186.0 115,184.8 117,183.7 119,182.7 121,181.8 123,181.0 125,180.1 127,179.3 129,178.4 131,177.5 133,176.6 135,175.8 137,174.9 139,174.0 141,173.1 143,172.2 145,171.4 147,170.4 149,169.5 151,168.6 153,167.6 155,166.6 157,165.7 159,164.8 161,163.9 163,163.1 165,162.3 167,161.5 169,160.8 171,160.1 173,159.4 175,158.7 177,158.1 179,157.5 181,156.8 183,156.2 185,155.7 187,155.1 189,154.6 191,154.1 193,153.6 195,153.2 197,152.8 199,152.4 201,152.0 203,151.6 205,151.3 207,151.0 209,150.7 211,150.5 213,150.3 215,150.0 217,149.9 219,149.7 221,149.5 223,149.3 225,149.2 227,149.1 229,148.9 231,148.7 233,148.6 235,148.5 237,148.4 239,148.3 241,148.3 243,148.3 245,148.5 247,148.7 249,149.0 251,149.3 253,149.6 255,150.0 257,150.4 259,151.0 261,151.7 263,152.5 265,153.4 267,154.4 269,155.2 271,156.0 273,156.7 275,157.4 277,158.0 279,158.7 281,159.3 283,159.9 285,160.5 287,161.1 289,161.6 291,162.1 293,162.6 295,163.1 297,163.8 299,164.7 301,165.9 303,167.3 305,168.9 307,170.5 309,171.9 311,173.3 313,174.7 315,176.0 317,177.4 319,178.7 321,180.0 323,181.3 325,182.5 327,183.7 329,184.8 331,185.8 333,186.9 335,187.9 337,188.9 339,189.9 341,191.0 343,192.0 345,193.0 347,194.0 349,195.0 351,196.0 353,197.0 355,198.0 357,199.0 359,200.0 361,200.9 363,201.9 365,202.9 367,203.9 369,205.0 371,206.0 373,206.9 375,207.9 377,209.0 379,210.0 381,211.1 383,212.3 385,213.4 387,214.5 389,215.5 391,216.4 393,217.1 395,217.6 397,218.0 399,218.4 401,218.7 403,219.1 405,219.3 407,219.6 409,219.8 411,220.0 413,220.1 415,220.3 417,220.4 419,220.5 421,220.7 423,221.0 425,221.4 427,222.0 429,222.3 431,222.4 433,222.4 435,222.4 437,222.4 439,222.4 441,222.4 443,222.4 445,222.4 447,222.4 449,222.4 451,222.3 453,221.4 455,220.5 457,220.5 459,220.5 461,220.5 463,220.5 465,220.5 467,220.2 469,219.0 471,217.3 473,215.4 475,213.7 477,212.4 479,211.1 481,209.9 483,208.8 485,207.6 487,206.5 489,205.3 491,204.2 493,203.2 495,202.1 497,200.8 499,199.5 501,197.9 503,196.3 505,194.7 507,193.0 509,191.3 511,189.6 513,187.9 515,186.3 517,184.7 519,183.0 521,181.3 523,179.7 525,178.0 527,176.4 529,174.7 531,173.1 533,171.5 535,169.9 537,168.2 539,166.6 541,164.9 543,163.2 545,161.4 547,159.4 549,157.3 551,155.1 553,152.8 555,150.5 557,148.3 559,146.3 561,144.6 563,143.1 565,141.7 567,140.5 569,139.3 571,138.2 573,137.1 575,136.2 577,135.3 579,134.6 581,133.9 583,133.2 585,132.7 587,132.1 589,131.6 591,131.1 593,130.6 595,130.0 597,129.3 599,128.6 601,127.9 603,127.2 605,126.4 607,125.7 609,125.0 611,124.4 613,123.7 615,123.1 617,122.4 619,121.7 621,121.1 623,120.6 625,120.1 627,119.7 629,119.4 631,119.2 633,119.1 635,118.9 637,118.8 639,118.7 641,118.5 643,118.3 645,118.1 647,117.9 649,117.7 651,117.6 653,117.5 655,117.5 657,117.5 659,117.5 661,117.5 663,117.5 665,117.5 667,117.5 669,117.5 671,117.6 673,117.7 675,117.9 677,118.2 679,118.5 681,118.8 683,119.2 685,119.5 687,120.0 689,120.6 691,121.3 693,122.0 695,122.8 697,123.6 699,124.4 701,125.2 703,126.0 705,126.8 707,127.7 709,128.6 711,129.6 713,130.5 715,131.4 717,132.3 719,133.1 721,134.0 723,135.0 725,136.0 727,137.2 729,138.7 731,140.6 733,143.1 735,145.9 737,148.8 739,151.8 741,154.6 743,157.0 745,159.2 747,161.3 749,163.3 751,165.3 753,167.2 755,169.1 757,171.0 759,173.0 761,175.0 763,176.9 765,178.7 767,180.6 769,182.5 771,184.5 773,186.6 775,188.8 777,191.3 779,194.0 781,197.1 783,200.2 785,203.4 787,206.5 789,209.4 791,212.1 793,214.7 795,217.3 797,219.8 799,222.2 801,224.4 803,226.4 805,228.3 807,230.2 809,232.1 811,234.1 813,236.4 815,238.9 817,241.9 819,245.8 821,250.2 823,254.5 825,258.3 827,261.8 829,265.2 831,268.5 833,271.9 835,275.4 837,278.9 839,282.4 841,285.9 843,289.4 845,292.9 847,296.4 849,299.7 851,303.0 853,306.2 855,309.1 857,312.0 859,314.8 861,317.7 863,320.7 865,324.0 867,327.7 869,332.2 871,336.8 873,340.2 875,342.8 877,345.0 879,347.0 881,349.0 883,351.1 885,353.4 887,355.7 889,357.9 891,360.2 893,362.3 895,364.2 897,366.0 899,367.6 901,369.0 903,370.3 905,371.6 907,372.8 909,374.0 911,375.2 913,376.5 915,377.7 917,378.9 919,380.1 921,381.2 923,382.4 925,383.6 927,384.9 929,386.3 931,387.8 933,389.7 935,391.9 937,394.3 939,396.8 941,399.0 943,400.9 945,402.4 947,403.6 949,404.7 951,405.8 953,406.7 955,407.7 957,408.8 959,410.0 961,411.3 963,412.9 965,414.6 967,416.3 969,418.1 971,419.8 973,421.3 975,422.9 977,424.6 979,426.3 981,427.8 983,428.8 985,429.3 987,429.2 989,428.9 991,428.6 993,428.4 995,428.5 997,428.9 999,429.5 1001,429.9 1003,430.0 1005,430.1 1007,430.2 1009,430.2 1011,430.3 1013,430.3 1015,430.3 1017,430.4 1019,430.4 1021,430.5 1023,430.8 1025,431.2 1027,431.7 1029,432.0 1031,432.2 1033,432.0 1035,431.5 1037,430.8 1039,430.3 1041,430.0 1043,430.2 1045,430.8 1047,431.7 1049,432.9 1051,434.3 1053,435.6 1055,436.9 1057,438.0 1059,438.8 1061,439.7 1063,440.5 1065,441.2 1067,441.5 1069,441.4 1071,441.0 1073,440.5 1075,439.9 1077,439.2 1079,438.3 1081,437.3 1083,436.2 1085,435.0 1087,433.7 1089,432.3 1091,430.9 1093,429.1 1095,427.3 1097,425.3 1099,423.3 1101,421.4 1103,419.5 1105,417.8 1107,416.1 1109,414.3 1111,412.5 1113,410.4 1115,408.1 1117,405.4 1119,402.4 1121,399.2 1123,395.9 1125,392.5 1127,389.1 1129,385.9 1131,382.6 1133,379.2 1135,375.8 1137,372.4 1139,369.1 1141,365.9 1143,362.7 1145,359.6 1147,356.6 1149,353.6 1151,350.6 1153,347.7 1155,344.8 1157,341.8 1159,338.9 1161,336.0 1163,333.2 1165,330.4 1167,327.9 1169,325.4 1171,323.1 1173,320.9 1175,318.7 1177,316.5 1179,314.3 1181,312.1 1183,309.8 1185,307.3 1187,304.8 1189,302.2 1191,299.6 1193,297.0 1195,294.4 1197,291.8 1199,289.3 1201,286.8 1203,284.4 1205,281.9 1207,279.5 1209,276.9 1211,274.3 1213,271.5 1215,268.8 1217,265.9 1219,263.0 1221,260.0 1223,257.0 1225,253.8 1227,250.3 1229,246.9 1231,243.7 1233,241.0 1235,238.8 1237,236.7 1239,234.8 1241,233.0 1243,231.4 1245,229.9 1247,228.5 1249,227.3 1251,226.1 1253,225.0 1255,224.0 1257,222.9 1259,221.7 1261,220.5 1263,219.2 1265,217.9 1267,216.7 1269,215.6 1271,214.6 1273,213.9 1275,213.2 1277,212.5 1279,211.9 1281,211.4 1283,211.1 1285,211.1 1287,211.2 1289,211.3 1291,211.4 1293,211.5 1295,211.7 1297,211.9 1299,212.0 1301,212.1 1303,212.2 1305,212.3 1307,212.3 1309,212.1 1311,211.8 1313,211.4 1315,211.0 1317,210.6 1319,210.2 1321,209.9 1323,209.8 1325,209.7 1327,209.7 1329,209.6 1331,209.6 1333,209.5 1335,209.5 1337,209.4 1339,209.4 1341,209.4 1343,209.4 1345,209.4 1347,209.4 1349,209.4 1351,209.4 1353,209.4 1355,209.4 1357,209.4 1359,209.4 1361,209.4 1363,209.4 1365,209.4 1367,209.8 1369,210.4 1371,211.2 1373,212.3 1375,213.4 1377,214.6 1379,215.7 1381,216.8 1383,217.7 1385,218.6 1387,219.4 1389,220.3 1391,221.1 1393,221.9 1395,222.7 1397,223.4 1399,224.1 1401,224.8 1403,225.4 1405,226.0 1407,226.6 1409,227.1 1411,227.6 1413,228.2 1415,228.7 1417,229.3 1419,229.8 1421,230.5 1423,231.1 1425,231.8 1427,232.7 1429,233.6 1431,234.7 1433,235.8 1435,236.9 1437,237.9 1439,238.9 1441,239.7 1443,240.5 1445,241.0 1447,241.3 1449,241.6 1451,241.9 1453,242.2 1455,242.4 1457,242.6 1459,242.8 1461,242.9 1463,243.1 1465,243.2 1467,243.3 1469,243.5 1471,243.6 1473,243.7 1475,243.8 1477,243.9 1479,244.0 1481,244.2 1483,244.5 1485,244.7 1487,244.9 1489,245.1 1491,245.2 1493,245.2 1495,245.2 1497,245.1 1499,245.1 1501,245.0 1503,244.9 1505,244.8 1507,244.6 1509,244.5 1511,244.4 1513,244.2 1515,244.0 1517,243.8 1519,243.5 1521,243.2 1523,242.8 1525,242.4 1527,241.9 1529,241.3 1531,240.7 1533,239.6 1535,238.3 1537,236.8 1539,235.2 1541,233.7 1543,232.3 1545,231.1 1547,229.9 1549,228.6 1551,227.4 1553,226.1 1555,224.8 1557,223.4 1559,221.8 1561,220.0 1563,218.2 1565,216.3 1567,214.5 1569,212.7 1571,211.2 1573,209.9 1575,208.6 1577,207.5 1579,206.4 1581,205.3 1583,204.3 1585,203.3 1587,202.2 1589,201.1 1591,199.8 1593,198.5 1595,197.0 1597,195.4 1599,193.6 1601,191.9 1603,190.1 1605,188.4 1607,186.7 1609,185.3 1611,184.0 1613,182.9 1615,182.0 1617,181.3 1619,180.6 1621,180.0 1623,179.3 1625,178.6 1627,177.9 1629,177.1 1631,176.3 1633,175.5 1635,174.7 1637,173.9 1639,173.2 1641,172.4 1643,171.7 1645,170.9 1647,170.3 1649,169.6 1651,168.9 1653,168.3 1655,167.7 1657,167.1 1659,166.5 1661,165.9 1663,165.3 1665,164.8" fill="none" stroke="#ffa500" stroke-width="1"/>
</g>
<rect x="9" y="62" width="1680" height="2" fill="#ff0000"/>
<rect x="9" y="125" width="1680" height="2" fill="#ff0000"/>
<rect x="9" y="225" width="1680" height="2" fill="#32cd32"/>
<rect x="9" y="306" width="1680" height="2" fill="#4169e1"/>
<rect x="9" y="360" width="1680" height="2" fill="#4169e1"/>
<rect x="9" y="451" width="1680" height="2" fill="#4169e1"/>
<rect x="9" y="158" width="1680" height="1" fill="#778899"/>
<rect x="1690" y="93" width="2" height="1" fill="#000"/>
<text x="1695.3" y="96.6" font-size="9.1" fill="#000" text-anchor="start" stroke="#000" stroke-width="0.22">1683.50</text>
<rect x="1690" y="126" width="2" height="1" fill="#000"/>
<text x="1695.3" y="129.6" font-size="9.1" fill="#000" text-anchor="start" stroke="#000" stroke-width="0.22">1665.35</text>
<rect x="1690" y="159" width="2" height="1" fill="#000"/>
<text x="1695.3" y="162.6" font-size="9.1" fill="#000" text-anchor="start" stroke="#000" stroke-width="0.22">1647.20</text>
<rect x="1690" y="192" width="2" height="1" fill="#000"/>
<text x="1695.3" y="195.6" font-size="9.1" fill="#000" text-anchor="start" stroke="#000" stroke-width="0.22">1628.50</text>
<rect x="1690" y="225" width="2" height="1" fill="#000"/>
<text x="1695.3" y="228.6" font-size="9.1" fill="#000" text-anchor="start" stroke="#000" stroke-width="0.22">1610.35</text>
<rect x="1690" y="258" width="2" height="1" fill="#000"/>
<text x="1695.3" y="261.6" font-size="9.1" fill="#000" text-anchor="start" stroke="#000" stroke-width="0.22">1592.20</text>
<rect x="1690" y="291" width="2" height="1" fill="#000"/>
<text x="1695.3" y="294.6" font-size="9.1" fill="#000" text-anchor="start" stroke="#000" stroke-width="0.22">1574.05</text>
<rect x="1690" y="324" width="2" height="1" fill="#000"/>
<text x="1695.3" y="327.6" font-size="9.1" fill="#000" text-anchor="start" stroke="#000" stroke-width="0.22">1555.90</text>
<rect x="1690" y="357" width="2" height="1" fill="#000"/>
<text x="1695.3" y="360.6" font-size="9.1" fill="#000" text-anchor="start" stroke="#000" stroke-width="0.22">1537.75</text>
<rect x="1690" y="390" width="2" height="1" fill="#000"/>
<text x="1695.3" y="393.6" font-size="9.1" fill="#000" text-anchor="start" stroke="#000" stroke-width="0.22">1519.05</text>
<rect x="1690" y="423" width="2" height="1" fill="#000"/>
<text x="1695.3" y="426.6" font-size="9.1" fill="#000" text-anchor="start" stroke="#000" stroke-width="0.22">1500.90</text>
<rect x="1690" y="456" width="2" height="1" fill="#000"/>
<text x="1695.3" y="459.6" font-size="9.1" fill="#000" text-anchor="start" stroke="#000" stroke-width="0.22">1482.75</text>
<rect x="1690" y="489" width="2" height="1" fill="#000"/>
<text x="1695.3" y="492.6" font-size="9.1" fill="#000" text-anchor="start" stroke="#000" stroke-width="0.22">1464.60</text>
<rect x="1690" y="522" width="2" height="1" fill="#000"/>
<text x="1695.3" y="525.6" font-size="9.1" fill="#000" text-anchor="start" stroke="#000" stroke-width="0.22">1446.45</text>
<rect x="1691" y="57" width="41" height="11" fill="#ff0000"/>
<text x="1695.3" y="65.6" font-size="9.1" fill="#fff" text-anchor="start" stroke="#fff" stroke-width="0.22">1700.00</text>
<rect x="1691" y="120" width="41" height="11" fill="#ff0000"/>
<text x="1695.3" y="128.6" font-size="9.1" fill="#fff" text-anchor="start" stroke="#fff" stroke-width="0.22">1665.00</text>
<rect x="1691" y="153" width="41" height="11" fill="#000"/>
<text x="1695.3" y="161.6" font-size="9.1" fill="#fff" text-anchor="start" stroke="#fff" stroke-width="0.22">1647.18</text>
<rect x="1691" y="220" width="41" height="11" fill="#32cd32"/>
<text x="1695.3" y="228.6" font-size="9.1" fill="#fff" text-anchor="start" stroke="#fff" stroke-width="0.22">1610.00</text>
<rect x="1691" y="301" width="41" height="11" fill="#4169e1"/>
<text x="1695.3" y="309.6" font-size="9.1" fill="#fff" text-anchor="start" stroke="#fff" stroke-width="0.22">1565.00</text>
<rect x="1691" y="355" width="41" height="11" fill="#4169e1"/>
<text x="1695.3" y="363.6" font-size="9.1" fill="#fff" text-anchor="start" stroke="#fff" stroke-width="0.22">1535.11</text>
<rect x="1691" y="446" width="41" height="11" fill="#4169e1"/>
<text x="1695.3" y="454.6" font-size="9.1" fill="#fff" text-anchor="start" stroke="#fff" stroke-width="0.22">1485.00</text>
<path d="M12.2 40.3H19.2L15.7 44.4Z" fill="#000" shape-rendering="geometricPrecision"/>
<text x="23.8" y="45" font-size="9.3" fill="#000" text-anchor="start" stroke="#000" stroke-width="0.22">XAUUSD-,H4&#160;&#160;1645.28 1647.63 1642.69 1647.18</text>
<rect x="9" y="573" width="1" height="16" fill="#c0c0c0"/>
<rect x="17" y="572" width="1" height="17" fill="#c0c0c0"/>
<rect x="25" y="571" width="1" height="18" fill="#c0c0c0"/>
<rect x="33" y="571" width="1" height="18" fill="#c0c0c0"/>
<rect x="41" y="570" width="1" height="19" fill="#c0c0c0"/>
<rect x="49" y="569" width="1" height="20" fill="#c0c0c0"/>
<rect x="57" y="567" width="1" height="22" fill="#c0c0c0"/>
<rect x="65" y="565" width="1" height="24" fill="#c0c0c0"/>
<rect x="73" y="564" width="1" height="25" fill="#c0c0c0"/>
<rect x="81" y="560" width="1" height="29" fill="#c0c0c0"/>
<rect x="89" y="558" width="1" height="31" fill="#c0c0c0"/>
<rect x="97" y="555" width="1" height="34" fill="#c0c0c0"/>
<rect x="105" y="552" width="1" height="37" fill="#c0c0c0"/>
<rect x="113" y="551" width="1" height="38" fill="#c0c0c0"/>
<rect x="121" y="553" width="1" height="36" fill="#c0c0c0"/>
<rect x="129" y="556" width="1" height="33" fill="#c0c0c0"/>
<rect x="137" y="558" width="1" height="31" fill="#c0c0c0"/>
<rect x="145" y="562" width="1" height="27" fill="#c0c0c0"/>
<rect x="153" y="565" width="1" height="24" fill="#c0c0c0"/>
<rect x="161" y="566" width="1" height="23" fill="#c0c0c0"/>
<rect x="169" y="568" width="1" height="21" fill="#c0c0c0"/>
<rect x="177" y="571" width="1" height="18" fill="#c0c0c0"/>
<rect x="185" y="574" width="1" height="15" fill="#c0c0c0"/>
<rect x="193" y="575" width="1" height="14" fill="#c0c0c0"/>
<rect x="201" y="577" width="1" height="12" fill="#c0c0c0"/>
<rect x="209" y="579" width="1" height="10" fill="#c0c0c0"/>
<rect x="217" y="579" width="1" height="10" fill="#c0c0c0"/>
<rect x="225" y="580" width="1" height="9" fill="#c0c0c0"/>
<rect x="233" y="580" width="1" height="9" fill="#c0c0c0"/>
<rect x="241" y="581" width="1" height="8" fill="#c0c0c0"/>
<rect x="249" y="581" width="1" height="8" fill="#c0c0c0"/>
<rect x="257" y="581" width="1" height="8" fill="#c0c0c0"/>
<rect x="265" y="583" width="1" height="6" fill="#c0c0c0"/>
<rect x="273" y="583" width="1" height="6" fill="#c0c0c0"/>
<rect x="281" y="585" width="1" height="4" fill="#c0c0c0"/>
<rect x="289" y="588" width="1" height="1" fill="#c0c0c0"/>
<rect x="297" y="588" width="1" height="1" fill="#c0c0c0"/>
<rect x="305" y="588" width="1" height="10" fill="#c0c0c0"/>
<rect x="313" y="588" width="1" height="17" fill="#c0c0c0"/>
<rect x="321" y="588" width="1" height="21" fill="#c0c0c0"/>
<rect x="329" y="588" width="1" height="23" fill="#c0c0c0"/>
<rect x="337" y="588" width="1" height="24" fill="#c0c0c0"/>
<rect x="345" y="588" width="1" height="23" fill="#c0c0c0"/>
<rect x="353" y="588" width="1" height="24" fill="#c0c0c0"/>
<rect x="361" y="588" width="1" height="24" fill="#c0c0c0"/>
<rect x="369" y="588" width="1" height="25" fill="#c0c0c0"/>
<rect x="377" y="588" width="1" height="24" fill="#c0c0c0"/>
<rect x="385" y="588" width="1" height="24" fill="#c0c0c0"/>
<rect x="393" y="588" width="1" height="22" fill="#c0c0c0"/>
<rect x="401" y="588" width="1" height="16" fill="#c0c0c0"/>
<rect x="409" y="588" width="1" height="12" fill="#c0c0c0"/>
<rect x="417" y="588" width="1" height="6" fill="#c0c0c0"/>
<rect x="425" y="588" width="1" height="2" fill="#c0c0c0"/>
<rect x="433" y="588" width="1" height="1" fill="#c0c0c0"/>
<rect x="441" y="584" width="1" height="5" fill="#c0c0c0"/>
<rect x="449" y="582" width="1" height="7" fill="#c0c0c0"/>
<rect x="457" y="581" width="1" height="8" fill="#c0c0c0"/>
<rect x="465" y="580" width="1" height="9" fill="#c0c0c0"/>
<rect x="473" y="580" width="1" height="9" fill="#c0c0c0"/>
<rect x="481" y="580" width="1" height="9" fill="#c0c0c0"/>
<rect x="489" y="578" width="1" height="11" fill="#c0c0c0"/>
<rect x="497" y="575" width="1" height="14" fill="#c0c0c0"/>
<rect x="505" y="572" width="1" height="17" fill="#c0c0c0"/>
<rect x="513" y="569" width="1" height="20" fill="#c0c0c0"/>
<rect x="521" y="567" width="1" height="22" fill="#c0c0c0"/>
<rect x="529" y="566" width="1" height="23" fill="#c0c0c0"/>
<rect x="537" y="563" width="1" height="26" fill="#c0c0c0"/>
<rect x="545" y="564" width="1" height="25" fill="#c0c0c0"/>
<rect x="553" y="562" width="1" height="27" fill="#c0c0c0"/>
<rect x="561" y="559" width="1" height="30" fill="#c0c0c0"/>
<rect x="569" y="560" width="1" height="29" fill="#c0c0c0"/>
<rect x="577" y="560" width="1" height="29" fill="#c0c0c0"/>
<rect x="585" y="562" width="1" height="27" fill="#c0c0c0"/>
<rect x="593" y="565" width="1" height="24" fill="#c0c0c0"/>
<rect x="601" y="566" width="1" height="23" fill="#c0c0c0"/>
<rect x="609" y="569" width="1" height="20" fill="#c0c0c0"/>
<rect x="617" y="571" width="1" height="18" fill="#c0c0c0"/>
<rect x="625" y="574" width="1" height="15" fill="#c0c0c0"/>
<rect x="633" y="576" width="1" height="13" fill="#c0c0c0"/>
<rect x="641" y="579" width="1" height="10" fill="#c0c0c0"/>
<rect x="649" y="584" width="1" height="5" fill="#c0c0c0"/>
<rect x="657" y="586" width="1" height="3" fill="#c0c0c0"/>
<rect x="665" y="586" width="1" height="3" fill="#c0c0c0"/>
<rect x="673" y="586" width="1" height="3" fill="#c0c0c0"/>
<rect x="681" y="586" width="1" height="3" fill="#c0c0c0"/>
<rect x="689" y="588" width="1" height="1" fill="#c0c0c0"/>
<rect x="697" y="588" width="1" height="3" fill="#c0c0c0"/>
<rect x="705" y="588" width="1" height="5" fill="#c0c0c0"/>
<rect x="713" y="588" width="1" height="7" fill="#c0c0c0"/>
<rect x="721" y="588" width="1" height="9" fill="#c0c0c0"/>
<rect x="729" y="588" width="1" height="10" fill="#c0c0c0"/>
<rect x="737" y="588" width="1" height="22" fill="#c0c0c0"/>
<rect x="745" y="588" width="1" height="29" fill="#c0c0c0"/>
<rect x="753" y="588" width="1" height="34" fill="#c0c0c0"/>
<rect x="761" y="588" width="1" height="40" fill="#c0c0c0"/>
<rect x="769" y="588" width="1" height="40" fill="#c0c0c0"/>
<rect x="777" y="588" width="1" height="41" fill="#c0c0c0"/>
<rect x="785" y="588" width="1" height="47" fill="#c0c0c0"/>
<rect x="793" y="588" width="1" height="55" fill="#c0c0c0"/>
<rect x="801" y="588" width="1" height="55" fill="#c0c0c0"/>
<rect x="809" y="588" width="1" height="56" fill="#c0c0c0"/>
<rect x="817" y="588" width="1" height="57" fill="#c0c0c0"/>
<rect x="825" y="588" width="1" height="69" fill="#c0c0c0"/>
<rect x="833" y="588" width="1" height="70" fill="#c0c0c0"/>
<rect x="841" y="588" width="1" height="70" fill="#c0c0c0"/>
<rect x="849" y="588" width="1" height="70" fill="#c0c0c0"/>
<rect x="857" y="588" width="1" height="69" fill="#c0c0c0"/>
<rect x="865" y="588" width="1" height="70" fill="#c0c0c0"/>
<rect x="873" y="588" width="1" height="72" fill="#c0c0c0"/>
<rect x="881" y="588" width="1" height="64" fill="#c0c0c0"/>
<rect x="889" y="588" width="1" height="58" fill="#c0c0c0"/>
<rect x="897" y="588" width="1" height="51" fill="#c0c0c0"/>
<rect x="905" y="588" width="1" height="46" fill="#c0c0c0"/>
<rect x="913" y="588" width="1" height="46" fill="#c0c0c0"/>
<rect x="921" y="588" width="1" height="43" fill="#c0c0c0"/>
<rect x="929" y="588" width="1" height="44" fill="#c0c0c0"/>
<rect x="937" y="588" width="1" height="44" fill="#c0c0c0"/>
<rect x="945" y="588" width="1" height="43" fill="#c0c0c0"/>
<rect x="953" y="588" width="1" height="45" fill="#c0c0c0"/>
<rect x="961" y="588" width="1" height="45" fill="#c0c0c0"/>
<rect x="969" y="588" width="1" height="45" fill="#c0c0c0"/>
<rect x="977" y="588" width="1" height="45" fill="#c0c0c0"/>
<rect x="985" y="588" width="1" height="45" fill="#c0c0c0"/>
<rect x="993" y="588" width="1" height="45" fill="#c0c0c0"/>
<rect x="1001" y="588" width="1" height="42" fill="#c0c0c0"/>
<rect x="1009" y="588" width="1" height="35" fill="#c0c0c0"/>
<rect x="1017" y="588" width="1" height="31" fill="#c0c0c0"/>
<rect x="1025" y="588" width="1" height="29" fill="#c0c0c0"/>
<rect x="1033" y="588" width="1" height="29" fill="#c0c0c0"/>
<rect x="1041" y="588" width="1" height="25" fill="#c0c0c0"/>
<rect x="1049" y="588" width="1" height="24" fill="#c0c0c0"/>
<rect x="1057" y="588" width="1" height="23" fill="#c0c0c0"/>
<rect x="1065" y="588" width="1" height="20" fill="#c0c0c0"/>
<rect x="1073" y="588" width="1" height="11" fill="#c0c0c0"/>
<rect x="1081" y="588" width="1" height="2" fill="#c0c0c0"/>
<rect x="1089" y="582" width="1" height="7" fill="#c0c0c0"/>
<rect x="1097" y="574" width="1" height="15" fill="#c0c0c0"/>
<rect x="1105" y="569" width="1" height="20" fill="#c0c0c0"/>
<rect x="1113" y="561" width="1" height="28" fill="#c0c0c0"/>
<rect x="1121" y="553" width="1" height="36" fill="#c0c0c0"/>
<rect x="1129" y="544" width="1" height="45" fill="#c0c0c0"/>
<rect x="1137" y="538" width="1" height="51" fill="#c0c0c0"/>
<rect x="1145" y="536" width="1" height="53" fill="#c0c0c0"/>
<rect x="1153" y="536" width="1" height="53" fill="#c0c0c0"/>
<rect x="1161" y="537" width="1" height="52" fill="#c0c0c0"/>
<rect x="1169" y="537" width="1" height="52" fill="#c0c0c0"/>
<rect x="1177" y="538" width="1" height="51" fill="#c0c0c0"/>
<rect x="1185" y="540" width="1" height="49" fill="#c0c0c0"/>
<rect x="1193" y="542" width="1" height="47" fill="#c0c0c0"/>
<rect x="1201" y="545" width="1" height="44" fill="#c0c0c0"/>
<rect x="1209" y="545" width="1" height="44" fill="#c0c0c0"/>
<rect x="1217" y="545" width="1" height="44" fill="#c0c0c0"/>
<rect x="1225" y="545" width="1" height="44" fill="#c0c0c0"/>
<rect x="1233" y="546" width="1" height="43" fill="#c0c0c0"/>
<rect x="1241" y="547" width="1" height="42" fill="#c0c0c0"/>
<rect x="1249" y="549" width="1" height="40" fill="#c0c0c0"/>
<rect x="1257" y="552" width="1" height="37" fill="#c0c0c0"/>
<rect x="1265" y="553" width="1" height="36" fill="#c0c0c0"/>
<rect x="1273" y="554" width="1" height="35" fill="#c0c0c0"/>
<rect x="1281" y="556" width="1" height="33" fill="#c0c0c0"/>
<rect x="1289" y="559" width="1" height="30" fill="#c0c0c0"/>
<rect x="1297" y="561" width="1" height="28" fill="#c0c0c0"/>
<rect x="1305" y="563" width="1" height="26" fill="#c0c0c0"/>
<rect x="1313" y="565" width="1" height="24" fill="#c0c0c0"/>
<rect x="1321" y="566" width="1" height="23" fill="#c0c0c0"/>
<rect x="1329" y="568" width="1" height="21" fill="#c0c0c0"/>
<rect x="1337" y="571" width="1" height="18" fill="#c0c0c0"/>
<rect x="1345" y="572" width="1" height="17" fill="#c0c0c0"/>
<rect x="1353" y="576" width="1" height="13" fill="#c0c0c0"/>
<rect x="1361" y="578" width="1" height="11" fill="#c0c0c0"/>
<rect x="1369" y="585" width="1" height="4" fill="#c0c0c0"/>
<rect x="1377" y="588" width="1" height="1" fill="#c0c0c0"/>
<rect x="1385" y="588" width="1" height="4" fill="#c0c0c0"/>
<rect x="1393" y="588" width="1" height="5" fill="#c0c0c0"/>
<rect x="1401" y="588" width="1" height="6" fill="#c0c0c0"/>
<rect x="1409" y="588" width="1" height="7" fill="#c0c0c0"/>
<rect x="1417" y="588" width="1" height="7" fill="#c0c0c0"/>
<rect x="1425" y="588" width="1" height="7" fill="#c0c0c0"/>
<rect x="1433" y="588" width="1" height="9" fill="#c0c0c0"/>
<rect x="1441" y="588" width="1" height="9" fill="#c0c0c0"/>
<rect x="1449" y="588" width="1" height="6" fill="#c0c0c0"/>
<rect x="1457" y="588" width="1" height="5" fill="#c0c0c0"/>
<rect x="1465" y="588" width="1" height="1" fill="#c0c0c0"/>
<rect x="1473" y="588" width="1" height="1" fill="#c0c0c0"/>
<rect x="1481" y="586" width="1" height="3" fill="#c0c0c0"/>
<rect x="1489" y="585" width="1" height="4" fill="#c0c0c0"/>
<rect x="1497" y="583" width="1" height="6" fill="#c0c0c0"/>
<rect x="1505" y="582" width="1" height="7" fill="#c0c0c0"/>
<rect x="1513" y="580" width="1" height="9" fill="#c0c0c0"/>
<rect x="1521" y="580" width="1" height="9" fill="#c0c0c0"/>
<rect x="1529" y="580" width="1" height="9" fill="#c0c0c0"/>
<rect x="1537" y="578" width="1" height="11" fill="#c0c0c0"/>
<rect x="1545" y="575" width="1" height="14" fill="#c0c0c0"/>
<rect x="1553" y="572" width="1" height="17" fill="#c0c0c0"/>
<rect x="1561" y="567" width="1" height="22" fill="#c0c0c0"/>
<rect x="1569" y="564" width="1" height="25" fill="#c0c0c0"/>
<rect x="1577" y="562" width="1" height="27" fill="#c0c0c0"/>
<rect x="1585" y="563" width="1" height="26" fill="#c0c0c0"/>
<rect x="1593" y="563" width="1" height="26" fill="#c0c0c0"/>
<rect x="1601" y="563" width="1" height="26" fill="#c0c0c0"/>
<rect x="1609" y="563" width="1" height="26" fill="#c0c0c0"/>
<rect x="1617" y="564" width="1" height="25" fill="#c0c0c0"/>
<rect x="1625" y="566" width="1" height="23" fill="#c0c0c0"/>
<rect x="1633" y="567" width="1" height="22" fill="#c0c0c0"/>
<rect x="1641" y="569" width="1" height="20" fill="#c0c0c0"/>
<rect x="1649" y="570" width="1" height="19" fill="#c0c0c0"/>
<rect x="1657" y="572" width="1" height="17" fill="#c0c0c0"/>
<rect x="1665" y="573" width="1" height="16" fill="#c0c0c0"/>
<polyline points="9,573.3 10,573.3 11,573.3 12,573.2 13,573.2 14,573.2 15,573.1 16,573.1 17,573.1 18,573.0 19,573.0 20,573.0 21,572.9 22,572.9 23,572.8 24,572.8 25,572.7 26,572.7 27,572.6 28,572.6 29,572.5 30,572.5 31,572.4 32,572.4 33,572.3 34,572.2 35,572.2 36,572.1 37,572.0 38,572.0 39,571.9 40,571.8 41,571.7 42,571.6 43,571.6 44,571.5 45,571.4 46,571.3 47,571.2 48,571.1 49,571.0 50,570.9 51,570.8 52,570.7 53,570.5 54,570.4 55,570.3 56,570.2 57,570.0 58,569.9 59,569.7 60,569.6 61,569.5 62,569.4 63,569.2 64,569.1 65,569.0 66,568.9 67,568.8 68,568.7 69,568.6 70,568.6 71,568.5 72,568.4 73,568.3 74,568.2 75,568.1 76,567.9 77,567.8 78,567.6 79,567.4 80,567.2 81,567.0 82,566.7 83,566.5 84,566.2 85,566.0 86,565.7 87,565.5 88,565.2 89,565.0 90,564.8 91,564.5 92,564.3 93,564.1 94,563.9 95,563.6 96,563.4 97,563.2 98,563.0 99,562.7 100,562.5 101,562.3 102,562.0 103,561.8 104,561.5 105,561.3 106,561.0 107,560.8 108,560.5 109,560.2 110,559.9 111,559.7 112,559.4 113,559.2 114,559.0 115,558.8 116,558.6 117,558.4 118,558.2 119,558.0 120,557.9 121,557.7 122,557.5 123,557.4 124,557.2 125,557.1 126,556.9 127,556.8 128,556.7 129,556.5 130,556.4 131,556.3 132,556.2 133,556.0 134,555.9 135,555.8 136,555.7 137,555.7 138,555.7 139,555.7 140,555.7 141,555.7 142,555.7 143,555.7 144,555.7 145,555.7 146,555.7 147,555.7 148,555.7 149,555.7 150,555.7 151,555.7 152,555.7 153,555.8 154,555.9 155,556.0 156,556.1 157,556.2 158,556.3 159,556.4 160,556.6 161,556.8 162,556.9 163,557.1 164,557.2 165,557.4 166,557.6 167,557.8 168,557.9 169,558.1 170,558.3 171,558.6 172,558.8 173,559.1 174,559.3 175,559.6 176,559.9 177,560.2 178,560.5 179,560.9 180,561.3 181,561.7 182,562.1 183,562.5 184,562.9 185,563.2 186,563.5 187,563.8 188,564.1 189,564.3 190,564.5 191,564.8 192,565.0 193,565.2 194,565.4 195,565.7 196,565.9 197,566.1 198,566.4 199,566.6 200,566.9 201,567.2 202,567.5 203,567.9 204,568.4 205,568.9 206,569.4 207,569.9 208,570.3 209,570.6 210,570.8 211,571.1 212,571.3 213,571.4 214,571.6 215,571.8 216,571.9 217,572.0 218,572.2 219,572.3 220,572.5 221,572.6 222,572.8 223,572.9 224,573.1 225,573.3 226,573.5 227,573.8 228,574.1 229,574.3 230,574.6 231,574.9 232,575.2 233,575.4 234,575.6 235,575.9 236,576.1 237,576.3 238,576.6 239,576.8 240,577.0 241,577.2 242,577.4 243,577.6 244,577.8 245,578.0 246,578.1 247,578.3 248,578.4 249,578.5 250,578.6 251,578.7 252,578.7 253,578.8 254,578.9 255,578.9 256,579.0 257,579.0 258,579.1 259,579.1 260,579.2 261,579.2 262,579.3 263,579.4 264,579.4 265,579.5 266,579.6 267,579.7 268,579.8 269,579.9 270,580.0 271,580.1 272,580.2 273,580.3 274,580.4 275,580.5 276,580.6 277,580.7 278,580.8 279,580.8 280,580.9 281,581.0 282,581.1 283,581.1 284,581.2 285,581.2 286,581.3 287,581.3 288,581.3 289,581.4 290,581.4 291,581.4 292,581.5 293,581.5 294,581.6 295,581.6 296,581.7 297,581.8 298,581.9 299,582.0 300,582.1 301,582.4 302,582.7 303,583.1 304,583.6 305,584.0 306,584.4 307,584.9 308,585.4 309,586.0 310,586.5 311,587.0 312,587.4 313,587.8 314,588.1 315,588.4 316,588.6 317,588.9 318,589.1 319,589.3 320,589.6 321,589.9 322,590.2 323,590.6 324,591.1 325,591.5 326,592.0 327,592.4 328,592.9 329,593.4 330,593.9 331,594.4 332,594.9 333,595.5 334,596.0 335,596.5 336,597.0 337,597.5 338,597.9 339,598.3 340,598.7 341,599.1 342,599.5 343,599.9 344,600.2 345,600.6 346,601.0 347,601.3 348,601.6 349,602.0 350,602.3 351,602.6 352,603.0 353,603.3 354,603.6 355,603.9 356,604.2 357,604.6 358,604.9 359,605.2 360,605.5 361,605.8 362,606.1 363,606.5 364,606.8 365,607.1 366,607.5 367,607.8 368,608.1 369,608.4 370,608.6 371,608.9 372,609.1 373,609.4 374,609.6 375,609.9 376,610.1 377,610.3 378,610.5 379,610.7 380,610.8 381,610.9 382,611.0 383,611.1 384,611.1 385,611.2 386,611.2 387,611.3 388,611.3 389,611.3 390,611.4 391,611.4 392,611.4 393,611.4 394,611.4 395,611.3 396,611.2 397,611.1 398,610.9 399,610.7 400,610.5 401,610.3 402,610.1 403,609.9 404,609.7 405,609.5 406,609.4 407,609.2 408,609.1 409,608.9 410,608.7 411,608.6 412,608.4 413,608.2 414,608.0 415,607.8 416,607.6 417,607.3 418,607.1 419,606.8 420,606.5 421,606.1 422,605.7 423,605.4 424,605.0 425,604.5 426,604.1 427,603.7 428,603.3 429,602.9 430,602.6 431,602.2 432,601.8 433,601.4 434,601.1 435,600.7 436,600.3 437,600.0 438,599.6 439,599.2 440,598.8 441,598.4 442,598.0 443,597.6 444,597.2 445,596.7 446,596.3 447,595.8 448,595.3 449,594.9 450,594.4 451,594.0 452,593.5 453,593.1 454,592.6 455,592.2 456,591.8 457,591.3 458,590.9 459,590.5 460,590.1 461,589.7 462,589.3 463,588.9 464,588.5 465,588.1 466,587.7 467,587.3 468,586.9 469,586.5 470,586.2 471,585.8 472,585.5 473,585.1 474,584.8 475,584.5 476,584.2 477,583.9 478,583.7 479,583.4 480,583.2 481,582.9 482,582.7 483,582.5 484,582.3 485,582.1 486,582.0 487,581.9 488,581.7 489,581.6 490,581.5 491,581.4 492,581.2 493,581.1 494,581.0 495,580.8 496,580.7 497,580.5 498,580.3 499,580.1 500,579.8 501,579.5 502,579.2 503,578.9 504,578.6 505,578.3 506,578.0 507,577.7 508,577.5 509,577.3 510,577.1 511,576.9 512,576.8 513,576.6 514,576.5 515,576.3 516,576.2 517,576.1 518,575.9 519,575.7 520,575.6 521,575.4 522,575.1 523,574.9 524,574.7 525,574.4 526,574.1 527,573.9 528,573.6 529,573.3 530,573.0 531,572.8 532,572.5 533,572.2 534,571.9 535,571.6 536,571.3 537,571.0 538,570.7 539,570.5 540,570.2 541,569.9 542,569.7 543,569.5 544,569.3 545,569.1 546,569.0 547,568.9 548,568.8 549,568.7 550,568.6 551,568.5 552,568.4 553,568.3 554,568.1 555,567.9 556,567.5 557,567.1 558,566.7 559,566.2 560,565.8 561,565.4 562,565.1 563,564.9 564,564.7 565,564.5 566,564.3 567,564.2 568,564.1 569,563.9 570,563.8 571,563.7 572,563.6 573,563.5 574,563.4 575,563.3 576,563.2 577,563.0 578,562.9 579,562.8 580,562.7 581,562.7 582,562.6 583,562.5 584,562.4 585,562.3 586,562.2 587,562.1 588,562.0 589,561.9 590,561.8 591,561.8 592,561.7 593,561.7 594,561.7 595,561.7 596,561.8 597,561.9 598,562.0 599,562.1 600,562.2 601,562.3 602,562.3 603,562.4 604,562.5 605,562.5 606,562.6 607,562.6 608,562.7 609,562.7 610,562.8 611,562.8 612,562.9 613,563.0 614,563.0 615,563.1 616,563.2 617,563.3 618,563.4 619,563.5 620,563.7 621,563.9 622,564.1 623,564.2 624,564.4 625,564.7 626,564.9 627,565.1 628,565.3 629,565.5 630,565.7 631,565.9 632,566.1 633,566.3 634,566.5 635,566.7 636,566.9 637,567.1 638,567.3 639,567.6 640,567.8 641,568.1 642,568.4 643,568.8 644,569.2 645,569.6 646,570.1 647,570.5 648,571.0 649,571.4 650,571.8 651,572.2 652,572.5 653,572.8 654,573.1 655,573.3 656,573.6 657,573.8 658,574.1 659,574.3 660,574.5 661,574.8 662,575.0 663,575.3 664,575.5 665,575.8 666,576.1 667,576.4 668,576.7 669,577.1 670,577.4 671,577.7 672,578.1 673,578.4 674,578.7 675,579.0 676,579.2 677,579.5 678,579.7 679,580.0 680,580.2 681,580.4 682,580.6 683,580.8 684,581.0 685,581.2 686,581.4 687,581.6 688,581.8 689,582.0 690,582.3 691,582.5 692,582.8 693,583.0 694,583.3 695,583.6 696,583.9 697,584.1 698,584.4 699,584.6 700,584.9 701,585.1 702,585.3 703,585.5 704,585.7 705,585.8 706,586.0 707,586.2 708,586.3 709,586.5 710,586.6 711,586.8 712,587.0 713,587.2 714,587.4 715,587.7 716,587.9 717,588.1 718,588.3 719,588.5 720,588.6 721,588.7 722,588.8 723,589.0 724,589.1 725,589.2 726,589.4 727,589.5 728,589.7 729,589.9 730,590.2 731,590.5 732,591.0 733,591.4 734,591.9 735,592.4 736,592.9 737,593.4 738,593.8 739,594.3 740,594.7 741,595.2 742,595.6 743,596.0 744,596.5 745,596.9 746,597.4 747,597.8 748,598.3 749,598.7 750,599.2 751,599.6 752,600.1 753,600.6 754,601.1 755,601.6 756,602.1 757,602.6 758,603.2 759,603.7 760,604.2 761,604.8 762,605.3 763,605.8 764,606.4 765,606.9 766,607.4 767,608.0 768,608.5 769,609.0 770,609.5 771,610.0 772,610.5 773,610.9 774,611.4 775,611.8 776,612.3 777,612.7 778,613.2 779,613.7 780,614.1 781,614.6 782,615.1 783,615.7 784,616.2 785,616.8 786,617.4 787,618.1 788,618.8 789,619.5 790,620.3 791,621.0 792,621.7 793,622.4 794,623.0 795,623.7 796,624.3 797,624.9 798,625.6 799,626.2 800,626.8 801,627.4 802,628.0 803,628.6 804,629.1 805,629.7 806,630.2 807,630.7 808,631.2 809,631.7 810,632.2 811,632.6 812,633.0 813,633.4 814,633.8 815,634.2 816,634.6 817,634.9 818,635.3 819,635.7 820,636.1 821,636.4 822,636.8 823,637.2 824,637.6 825,638.0 826,638.4 827,638.9 828,639.3 829,639.8 830,640.2 831,640.7 832,641.1 833,641.6 834,642.1 835,642.5 836,643.0 837,643.5 838,643.9 839,644.3 840,644.8 841,645.2 842,645.6 843,646.0 844,646.5 845,646.9 846,647.3 847,647.7 848,648.2 849,648.6 850,649.0 851,649.4 852,649.7 853,650.1 854,650.5 855,650.8 856,651.1 857,651.4 858,651.7 859,652.0 860,652.3 861,652.5 862,652.8 863,653.1 864,653.4 865,653.6 866,653.9 867,654.1 868,654.3 869,654.5 870,654.6 871,654.8 872,654.9 873,655.0 874,655.1 875,655.2 876,655.2 877,655.3 878,655.4 879,655.4 880,655.5 881,655.5 882,655.5 883,655.6 884,655.6 885,655.6 886,655.6 887,655.5 888,655.5 889,655.4 890,655.2 891,655.1 892,654.9 893,654.7 894,654.5 895,654.3 896,654.1 897,653.9 898,653.7 899,653.4 900,653.1 901,652.8 902,652.5 903,652.1 904,651.8 905,651.4 906,651.0 907,650.6 908,650.2 909,649.8 910,649.4 911,649.0 912,648.7 913,648.3 914,648.0 915,647.6 916,647.3 917,646.9 918,646.6 919,646.2 920,645.9 921,645.5 922,645.2 923,644.8 924,644.5 925,644.1 926,643.8 927,643.4 928,643.1 929,642.7 930,642.3 931,642.0 932,641.6 933,641.2 934,640.8 935,640.5 936,640.1 937,639.7 938,639.3 939,638.9 940,638.6 941,638.2 942,637.9 943,637.5 944,637.2 945,636.9 946,636.6 947,636.3 948,636.0 949,635.7 950,635.4 951,635.1 952,634.8 953,634.5 954,634.3 955,634.0 956,633.8 957,633.5 958,633.3 959,633.1 960,632.9 961,632.8 962,632.7 963,632.5 964,632.4 965,632.3 966,632.1 967,632.0 968,631.9 969,631.8 970,631.7 971,631.6 972,631.5 973,631.4 974,631.4 975,631.3 976,631.3 977,631.3 978,631.3 979,631.3 980,631.4 981,631.5 982,631.6 983,631.6 984,631.7 985,631.9 986,632.0 987,632.1 988,632.1 989,632.2 990,632.3 991,632.4 992,632.4 993,632.4 994,632.4 995,632.4 996,632.3 997,632.2 998,632.2 999,632.1 1000,632.0 1001,631.8 1002,631.7 1003,631.6 1004,631.4 1005,631.3 1006,631.1 1007,631.0 1008,630.8 1009,630.7 1010,630.5 1011,630.4 1012,630.2 1013,630.0 1014,629.8 1015,629.6 1016,629.4 1017,629.2 1018,628.9 1019,628.7 1020,628.5 1021,628.2 1022,628.0 1023,627.7 1024,627.5 1025,627.2 1026,626.9 1027,626.7 1028,626.4 1029,626.1 1030,625.7 1031,625.4 1032,625.1 1033,624.8 1034,624.4 1035,624.1 1036,623.8 1037,623.5 1038,623.2 1039,622.9 1040,622.6 1041,622.4 1042,622.2 1043,622.0 1044,621.8 1045,621.6 1046,621.4 1047,621.2 1048,621.1 1049,620.9 1050,620.7 1051,620.6 1052,620.4 1053,620.2 1054,620.0 1055,619.8 1056,619.6 1057,619.3 1058,619.0 1059,618.7 1060,618.3 1061,617.9 1062,617.5 1063,617.0 1064,616.6 1065,616.2 1066,615.8 1067,615.4 1068,614.9 1069,614.5 1070,614.1 1071,613.6 1072,613.2 1073,612.7 1074,612.3 1075,611.8 1076,611.4 1077,610.9 1078,610.4 1079,610.0 1080,609.5 1081,609.0 1082,608.5 1083,608.0 1084,607.5 1085,607.1 1086,606.6 1087,606.1 1088,605.6 1089,605.0 1090,604.5 1091,604.0 1092,603.5 1093,602.9 1094,602.4 1095,601.8 1096,601.2 1097,600.6 1098,600.0 1099,599.3 1100,598.7 1101,598.0 1102,597.3 1103,596.6 1104,595.9 1105,595.2 1106,594.4 1107,593.7 1108,592.9 1109,592.2 1110,591.4 1111,590.7 1112,589.9 1113,589.2 1114,588.5 1115,587.7 1116,587.0 1117,586.2 1118,585.5 1119,584.7 1120,584.0 1121,583.2 1122,582.5 1123,581.7 1124,580.9 1125,580.1 1126,579.3 1127,578.5 1128,577.7 1129,576.8 1130,575.9 1131,575.0 1132,574.1 1133,573.1 1134,572.1 1135,571.1 1136,570.1 1137,569.0 1138,568.0 1139,567.0 1140,566.0 1141,565.0 1142,564.0 1143,563.1 1144,562.2 1145,561.3 1146,560.5 1147,559.6 1148,558.8 1149,557.9 1150,557.1 1151,556.3 1152,555.5 1153,554.8 1154,554.0 1155,553.2 1156,552.5 1157,551.8 1158,551.1 1159,550.5 1160,549.8 1161,549.2 1162,548.6 1163,548.0 1164,547.4 1165,546.8 1166,546.2 1167,545.6 1168,545.0 1169,544.5 1170,544.0 1171,543.5 1172,543.0 1173,542.6 1174,542.2 1175,541.8 1176,541.5 1177,541.2 1178,540.9 1179,540.7 1180,540.5 1181,540.2 1182,540.0 1183,539.8 1184,539.5 1185,539.3 1186,539.2 1187,539.0 1188,538.9 1189,538.7 1190,538.6 1191,538.6 1192,538.5 1193,538.5 1194,538.5 1195,538.5 1196,538.5 1197,538.5 1198,538.6 1199,538.6 1200,538.6 1201,538.7 1202,538.7 1203,538.8 1204,538.8 1205,538.9 1206,538.9 1207,539.0 1208,539.0 1209,539.1 1210,539.2 1211,539.3 1212,539.4 1213,539.5 1214,539.7 1215,539.8 1216,540.0 1217,540.2 1218,540.4 1219,540.6 1220,540.7 1221,540.9 1222,541.1 1223,541.3 1224,541.5 1225,541.6 1226,541.7 1227,541.9 1228,542.0 1229,542.2 1230,542.3 1231,542.5 1232,542.6 1233,542.7 1234,542.9 1235,543.0 1236,543.1 1237,543.2 1238,543.4 1239,543.5 1240,543.6 1241,543.7 1242,543.8 1243,543.9 1244,544.0 1245,544.1 1246,544.2 1247,544.2 1248,544.3 1249,544.4 1250,544.5 1251,544.6 1252,544.6 1253,544.7 1254,544.8 1255,544.9 1256,545.0 1257,545.1 1258,545.2 1259,545.3 1260,545.4 1261,545.5 1262,545.7 1263,545.8 1264,545.9 1265,546.0 1266,546.2 1267,546.3 1268,546.5 1269,546.6 1270,546.7 1271,546.9 1272,547.0 1273,547.2 1274,547.4 1275,547.5 1276,547.7 1277,547.9 1278,548.1 1279,548.2 1280,548.4 1281,548.6 1282,548.8 1283,549.0 1284,549.2 1285,549.4 1286,549.6 1287,549.9 1288,550.1 1289,550.3 1290,550.5 1291,550.8 1292,551.0 1293,551.3 1294,551.5 1295,551.8 1296,552.1 1297,552.4 1298,552.6 1299,552.9 1300,553.2 1301,553.4 1302,553.7 1303,553.9 1304,554.2 1305,554.4 1306,554.6 1307,554.8 1308,555.0 1309,555.2 1310,555.4 1311,555.6 1312,555.8 1313,556.0 1314,556.1 1315,556.3 1316,556.5 1317,556.7 1318,556.9 1319,557.1 1320,557.3 1321,557.5 1322,557.7 1323,557.9 1324,558.2 1325,558.4 1326,558.6 1327,558.9 1328,559.1 1329,559.3 1330,559.6 1331,559.8 1332,560.1 1333,560.3 1334,560.6 1335,560.8 1336,561.1 1337,561.3 1338,561.5 1339,561.8 1340,562.0 1341,562.3 1342,562.5 1343,562.8 1344,563.0 1345,563.3 1346,563.6 1347,563.8 1348,564.1 1349,564.3 1350,564.6 1351,564.9 1352,565.1 1353,565.4 1354,565.7 1355,565.9 1356,566.2 1357,566.5 1358,566.7 1359,567.0 1360,567.3 1361,567.6 1362,567.8 1363,568.1 1364,568.4 1365,568.7 1366,569.0 1367,569.3 1368,569.7 1369,570.0 1370,570.4 1371,570.7 1372,571.1 1373,571.5 1374,572.0 1375,572.4 1376,572.9 1377,573.3 1378,573.8 1379,574.2 1380,574.7 1381,575.1 1382,575.6 1383,576.0 1384,576.4 1385,576.8 1386,577.2 1387,577.6 1388,577.9 1389,578.3 1390,578.6 1391,579.0 1392,579.3 1393,579.7 1394,580.0 1395,580.4 1396,580.7 1397,581.1 1398,581.4 1399,581.8 1400,582.1 1401,582.5 1402,582.9 1403,583.3 1404,583.6 1405,584.0 1406,584.4 1407,584.8 1408,585.2 1409,585.5 1410,585.8 1411,586.2 1412,586.5 1413,586.8 1414,587.2 1415,587.5 1416,587.8 1417,588.1 1418,588.4 1419,588.7 1420,589.0 1421,589.3 1422,589.5 1423,589.8 1424,590.1 1425,590.3 1426,590.5 1427,590.8 1428,591.0 1429,591.2 1430,591.5 1431,591.7 1432,591.9 1433,592.1 1434,592.3 1435,592.5 1436,592.7 1437,592.9 1438,593.0 1439,593.2 1440,593.3 1441,593.4 1442,593.5 1443,593.6 1444,593.7 1445,593.8 1446,593.9 1447,593.9 1448,594.0 1449,594.1 1450,594.2 1451,594.2 1452,594.3 1453,594.3 1454,594.4 1455,594.4 1456,594.4 1457,594.4 1458,594.4 1459,594.4 1460,594.4 1461,594.3 1462,594.3 1463,594.3 1464,594.2 1465,594.2 1466,594.1 1467,594.1 1468,594.0 1469,593.9 1470,593.9 1471,593.8 1472,593.7 1473,593.5 1474,593.4 1475,593.3 1476,593.1 1477,593.0 1478,592.8 1479,592.7 1480,592.5 1481,592.4 1482,592.3 1483,592.1 1484,592.0 1485,591.8 1486,591.7 1487,591.5 1488,591.4 1489,591.3 1490,591.1 1491,590.9 1492,590.8 1493,590.6 1494,590.4 1495,590.3 1496,590.1 1497,589.9 1498,589.7 1499,589.5 1500,589.3 1501,589.0 1502,588.8 1503,588.5 1504,588.3 1505,588.0 1506,587.8 1507,587.5 1508,587.2 1509,587.0 1510,586.8 1511,586.5 1512,586.3 1513,586.1 1514,585.9 1515,585.7 1516,585.5 1517,585.4 1518,585.2 1519,585.1 1520,584.9 1521,584.7 1522,584.6 1523,584.4 1524,584.3 1525,584.1 1526,583.9 1527,583.8 1528,583.6 1529,583.4 1530,583.2 1531,583.0 1532,582.8 1533,582.6 1534,582.4 1535,582.2 1536,582.0 1537,581.7 1538,581.5 1539,581.3 1540,581.1 1541,580.8 1542,580.6 1543,580.4 1544,580.1 1545,579.9 1546,579.7 1547,579.4 1548,579.2 1549,578.9 1550,578.6 1551,578.4 1552,578.1 1553,577.8 1554,577.6 1555,577.3 1556,577.1 1557,576.8 1558,576.5 1559,576.3 1560,576.0 1561,575.8 1562,575.6 1563,575.3 1564,575.1 1565,574.9 1566,574.7 1567,574.5 1568,574.2 1569,574.0 1570,573.8 1571,573.6 1572,573.4 1573,573.2 1574,573.0 1575,572.7 1576,572.5 1577,572.3 1578,572.1 1579,571.8 1580,571.6 1581,571.4 1582,571.1 1583,570.9 1584,570.6 1585,570.4 1586,570.1 1587,569.9 1588,569.6 1589,569.4 1590,569.2 1591,568.9 1592,568.7 1593,568.5 1594,568.3 1595,568.1 1596,567.9 1597,567.7 1598,567.4 1599,567.2 1600,567.0 1601,566.8 1602,566.6 1603,566.4 1604,566.3 1605,566.1 1606,565.9 1607,565.7 1608,565.6 1609,565.4 1610,565.2 1611,565.1 1612,564.9 1613,564.7 1614,564.5 1615,564.4 1616,564.2 1617,564.0 1618,563.9 1619,563.7 1620,563.6 1621,563.5 1622,563.4 1623,563.4 1624,563.3 1625,563.3 1626,563.3 1627,563.3 1628,563.3 1629,563.3 1630,563.3 1631,563.3 1632,563.3 1633,563.3 1634,563.3 1635,563.3 1636,563.3 1637,563.3 1638,563.4 1639,563.4 1640,563.6 1641,563.7 1642,563.8 1643,564.0 1644,564.1 1645,564.3 1646,564.5 1647,564.7 1648,564.8 1649,565.0 1650,565.2 1651,565.4 1652,565.7 1653,565.9 1654,566.1 1655,566.3 1656,566.5 1657,566.5 1658,566.5 1659,566.5 1660,566.5 1661,566.5 1662,566.5 1663,566.5 1664,566.5 1665,566.5" fill="none" stroke="#ff0000" stroke-width="1" stroke-dasharray="3 3"/>
<text x="13" y="540" font-size="9.5" fill="#000" text-anchor="start" stroke="#000" stroke-width="0.22">MACD(12,26,9) 8.636 11.677</text>
<text x="1692.9" y="537.6" font-size="9.3" fill="#000" text-anchor="start" stroke="#000" stroke-width="0.22">32.459</text>
<text x="1692.9" y="591.6" font-size="9.3" fill="#000" text-anchor="start" stroke="#000" stroke-width="0.22">0.00</text>
<text x="1692.9" y="663.1" font-size="9.3" fill="#000" text-anchor="start" stroke="#000" stroke-width="0.22">-41.95</text>
<rect x="1690" y="588" width="2" height="1" fill="#000"/>
<rect x="1690" y="529" width="1" height="1" fill="#000"/>
<rect x="1690" y="670" width="1" height="1" fill="#000"/>
<line x1="9" x2="1688" y1="699.5" y2="699.5" stroke="#c0c0c0" stroke-width="1" stroke-dasharray="3 3"/>
<line x1="9" x2="1688" y1="739.5" y2="739.5" stroke="#c0c0c0" stroke-width="1" stroke-dasharray="3 3"/>
<polyline points="9,689.5 17,689.5 25,688.2 33,687.4 41,686.3 49,682.6 57,682.6 65,680.5 73,679.9 81,675.4 89,683.2 97,681.2 105,679.0 113,687.8 121,706.5 129,706.5 137,705.0 145,716.4 153,713.0 161,709.0 169,712.7 177,718.5 185,718.5 193,716.2 201,714.3 209,720.5 217,714.3 225,717.4 233,713.3 241,715.2 249,714.3 257,713.3 265,720.5 273,717.4 281,721.0 289,727.2 297,726.0 305,742.3 313,742.3 321,742.3 329,732.4 337,733.4 345,728.6 353,732.4 361,731.3 369,733.4 377,729.7 385,730.3 393,725.7 401,711.6 409,714.3 417,708.5 425,710.2 433,712.3 441,710.6 449,710.6 457,712.3 465,714.3 473,712.7 481,714.3 489,710.0 497,705.0 505,700.6 513,700.6 521,703.3 529,702.3 537,698.2 545,711.2 553,704.4 561,701.7 569,709.1 577,709.6 585,712.7 593,715.8 601,712.7 609,717.4 617,717.8 625,719.5 633,719.9 641,723.0 649,727.2 657,723.0 665,719.5 673,717.4 681,716.2 689,723.4 697,728.2 705,725.5 713,727.2 721,725.5 729,728.2 737,744.2 745,742.7 753,739.2 761,742.7 769,730.3 777,732.4 785,740.6 793,743.8 801,730.3 809,731.3 817,734.4 825,742.7 833,732.4 841,731.3 849,731.3 857,732.4 865,734.4 873,736.5 881,723.4 889,723.4 897,722.0 905,723.4 913,728.2 921,724.5 929,728.2 937,728.2 945,727.2 953,732.4 961,728.2 969,730.3 977,728.2 985,730.7 993,729.7 1001,726.6 1009,719.3 1017,721.0 1025,724.5 1033,726.6 1041,723.4 1049,722.4 1057,723.4 1065,722.0 1073,709.1 1081,707.5 1089,705.4 1097,704.4 1105,704.0 1113,700.6 1121,697.7 1129,695.7 1137,694.4 1145,700.6 1153,705.4 1161,704.4 1169,703.3 1177,705.4 1185,704.4 1193,707.5 1201,708.5 1209,703.3 1217,701.3 1225,702.3 1233,703.3 1241,703.8 1249,705.4 1257,707.5 1265,705.4 1273,704.4 1281,704.4 1289,711.6 1297,709.6 1305,709.6 1313,710.6 1321,708.5 1329,713.3 1337,714.7 1345,714.7 1353,723.4 1361,718.9 1369,733.4 1377,732.4 1385,728.4 1393,722.4 1401,725.5 1409,723.4 1417,724.5 1425,723.4 1433,726.6 1441,722.4 1449,720.3 1457,713.7 1465,711.2 1473,712.3 1481,711.2 1489,711.2 1497,708.5 1505,711.2 1513,707.5 1521,710.2 1529,712.3 1537,705.4 1545,702.3 1553,699.8 1561,693.6 1569,697.7 1577,699.2 1585,708.1 1593,706.0 1601,704.4 1609,704.4 1617,710.2 1625,710.2 1633,709.1 1641,710.2 1649,711.2 1657,713.3 1665,712.3" fill="none" stroke="#1e90ff" stroke-width="1"/>
<text x="13" y="681.3" font-size="9.3" fill="#000" text-anchor="start" stroke="#000" stroke-width="0.22">RSI(14) 57.2490</text>
<text x="1692.6" y="678.9" font-size="9.3" fill="#000" text-anchor="start" stroke="#000" stroke-width="0.22">100</text>
<text x="1692.6" y="702.9" font-size="9.3" fill="#000" text-anchor="start" stroke="#000" stroke-width="0.22">70</text>
<text x="1692.6" y="742.9" font-size="9.3" fill="#000" text-anchor="start" stroke="#000" stroke-width="0.22">30</text>
<text x="1692.6" y="765.9" font-size="9.3" fill="#000" text-anchor="start" stroke="#000" stroke-width="0.22">0</text>
<rect x="9" y="770" width="1" height="3" fill="#000"/>
<text x="8" y="782" font-size="9.3" fill="#000" text-anchor="start" stroke="#000" stroke-width="0.22">20 Feb 2020</text>
<rect x="73" y="770" width="1" height="3" fill="#000"/>
<text x="72" y="782" font-size="9.3" fill="#000" text-anchor="start" stroke="#000" stroke-width="0.22">21 Feb 16:00</text>
<rect x="137" y="770" width="1" height="3" fill="#000"/>
<text x="136" y="782" font-size="9.3" fill="#000" text-anchor="start" stroke="#000" stroke-width="0.22">25 Feb 00:00</text>
<rect x="201" y="770" width="1" height="3" fill="#000"/>
<text x="200" y="782" font-size="9.3" fill="#000" text-anchor="start" stroke="#000" stroke-width="0.22">26 Feb 08:00</text>
<rect x="265" y="770" width="1" height="3" fill="#000"/>
<text x="264" y="782" font-size="9.3" fill="#000" text-anchor="start" stroke="#000" stroke-width="0.22">27 Feb 16:00</text>
<rect x="329" y="770" width="1" height="3" fill="#000"/>
<text x="328" y="782" font-size="9.3" fill="#000" text-anchor="start" stroke="#000" stroke-width="0.22">2 Mar 00:00</text>
<rect x="393" y="770" width="1" height="3" fill="#000"/>
<text x="392" y="782" font-size="9.3" fill="#000" text-anchor="start" stroke="#000" stroke-width="0.22">3 Mar 08:00</text>
<rect x="457" y="770" width="1" height="3" fill="#000"/>
<text x="456" y="782" font-size="9.3" fill="#000" text-anchor="start" stroke="#000" stroke-width="0.22">4 Mar 16:00</text>
<rect x="521" y="770" width="1" height="3" fill="#000"/>
<text x="520" y="782" font-size="9.3" fill="#000" text-anchor="start" stroke="#000" stroke-width="0.22">6 Mar 00:00</text>
<rect x="585" y="770" width="1" height="3" fill="#000"/>
<text x="584" y="782" font-size="9.3" fill="#000" text-anchor="start" stroke="#000" stroke-width="0.22">9 Mar 08:00</text>
<rect x="649" y="770" width="1" height="3" fill="#000"/>
<text x="648" y="782" font-size="9.3" fill="#000" text-anchor="start" stroke="#000" stroke-width="0.22">10 Mar 16:00</text>
<rect x="713" y="770" width="1" height="3" fill="#000"/>
<text x="712" y="782" font-size="9.3" fill="#000" text-anchor="start" stroke="#000" stroke-width="0.22">12 Mar 00:00</text>
<rect x="777" y="770" width="1" height="3" fill="#000"/>
<text x="776" y="782" font-size="9.3" fill="#000" text-anchor="start" stroke="#000" stroke-width="0.22">13 Mar 08:00</text>
<rect x="841" y="770" width="1" height="3" fill="#000"/>
<text x="840" y="782" font-size="9.3" fill="#000" text-anchor="start" stroke="#000" stroke-width="0.22">16 Mar 16:00</text>
<rect x="905" y="770" width="1" height="3" fill="#000"/>
<text x="904" y="782" font-size="9.3" fill="#000" text-anchor="start" stroke="#000" stroke-width="0.22">18 Mar 00:00</text>
<rect x="969" y="770" width="1" height="3" fill="#000"/>
<text x="968" y="782" font-size="9.3" fill="#000" text-anchor="start" stroke="#000" stroke-width="0.22">19 Mar 08:00</text>
<rect x="1033" y="770" width="1" height="3" fill="#000"/>
<text x="1032" y="782" font-size="9.3" fill="#000" text-anchor="start" stroke="#000" stroke-width="0.22">20 Mar 16:00</text>
<rect x="1097" y="770" width="1" height="3" fill="#000"/>
<text x="1096" y="782" font-size="9.3" fill="#000" text-anchor="start" stroke="#000" stroke-width="0.22">24 Mar 00:00</text>
<rect x="1161" y="770" width="1" height="3" fill="#000"/>
<text x="1160" y="782" font-size="9.3" fill="#000" text-anchor="start" stroke="#000" stroke-width="0.22">25 Mar 08:00</text>
<rect x="1225" y="770" width="1" height="3" fill="#000"/>
<text x="1224" y="782" font-size="9.3" fill="#000" text-anchor="start" stroke="#000" stroke-width="0.22">26 Mar 16:00</text>
<rect x="1289" y="770" width="1" height="3" fill="#000"/>
<text x="1288" y="782" font-size="9.3" fill="#000" text-anchor="start" stroke="#000" stroke-width="0.22">30 Mar 00:00</text>
<rect x="1353" y="770" width="1" height="3" fill="#000"/>
<text x="1352" y="782" font-size="9.3" fill="#000" text-anchor="start" stroke="#000" stroke-width="0.22">31 Mar 08:00</text>
<rect x="1417" y="770" width="1" height="3" fill="#000"/>
<text x="1416" y="782" font-size="9.3" fill="#000" text-anchor="start" stroke="#000" stroke-width="0.22">1 Apr 16:00</text>
<rect x="1481" y="770" width="1" height="3" fill="#000"/>
<text x="1480" y="782" font-size="9.3" fill="#000" text-anchor="start" stroke="#000" stroke-width="0.22">3 Apr 00:00</text>
<rect x="1545" y="770" width="1" height="3" fill="#000"/>
<text x="1544" y="782" font-size="9.3" fill="#000" text-anchor="start" stroke="#000" stroke-width="0.22">6 Apr 08:00</text>
<rect x="1609" y="770" width="1" height="3" fill="#000"/>
<text x="1608" y="782" font-size="9.3" fill="#000" text-anchor="start" stroke="#000" stroke-width="0.22">7 Apr 16:00</text>
<g fill="none" stroke="#ff1e0a" stroke-width="45" shape-rendering="geometricPrecision" stroke-linecap="butt" stroke-linejoin="miter" stroke-miterlimit="1.6"><path transform="translate(318,382) scale(0.05757)" d="M300 95L85 260 M270 172H520C400 290 230 350 60 390 M215 245L262 288 M390 325L95 490 M380 377H545C440 490 300 565 75 610 M275 465L322 515 M845 100L885 150 M630 182H1105 M636 182V262 M1090 182V262 M800 245L615 370 M925 245L1120 375 M675 400H1055 M865 400V585 M620 585H1110"/><path transform="translate(383,382) scale(0.05757)" d="M30 195H255 M140 95L55 375H255 M165 255V620 M25 500L260 465 M285 195H540 M265 300H555 M390 100L335 397H530L430 530 M300 485L480 610 M590 220H765 M680 100V580Q680 600 600 593 M580 400L765 350 M1095 130L815 160 M826 160V400Q826 520 750 612 M830 320H1115 M1000 320V620 M1395 90V270 M1395 175H1665 M1220 270V450 M1205 270H1610 M1595 270V450 M1220 435H1600 M1220 500L1150 610 M1320 490L1355 600 M1450 490L1495 600 M1580 495L1655 610"/></g>
<g fill="#ff1e0a" shape-rendering="geometricPrecision" transform="translate(470,382) scale(0.05757)"><path d="M385 120V555H320V205L230 250L225 195L340 120Z"/><path transform="translate(660,0)" d="M385 120V555H320V205L230 250L225 195L340 120Z"/></g>
<text transform="translate(499.6,414) scale(0.93,1)" font-size="35.4" fill="#ff1e0a">6</text>
<text transform="translate(536.9,414) scale(0.93,1)" font-size="35.4" fill="#ff1e0a">0</text>
</svg>
</body></html>
